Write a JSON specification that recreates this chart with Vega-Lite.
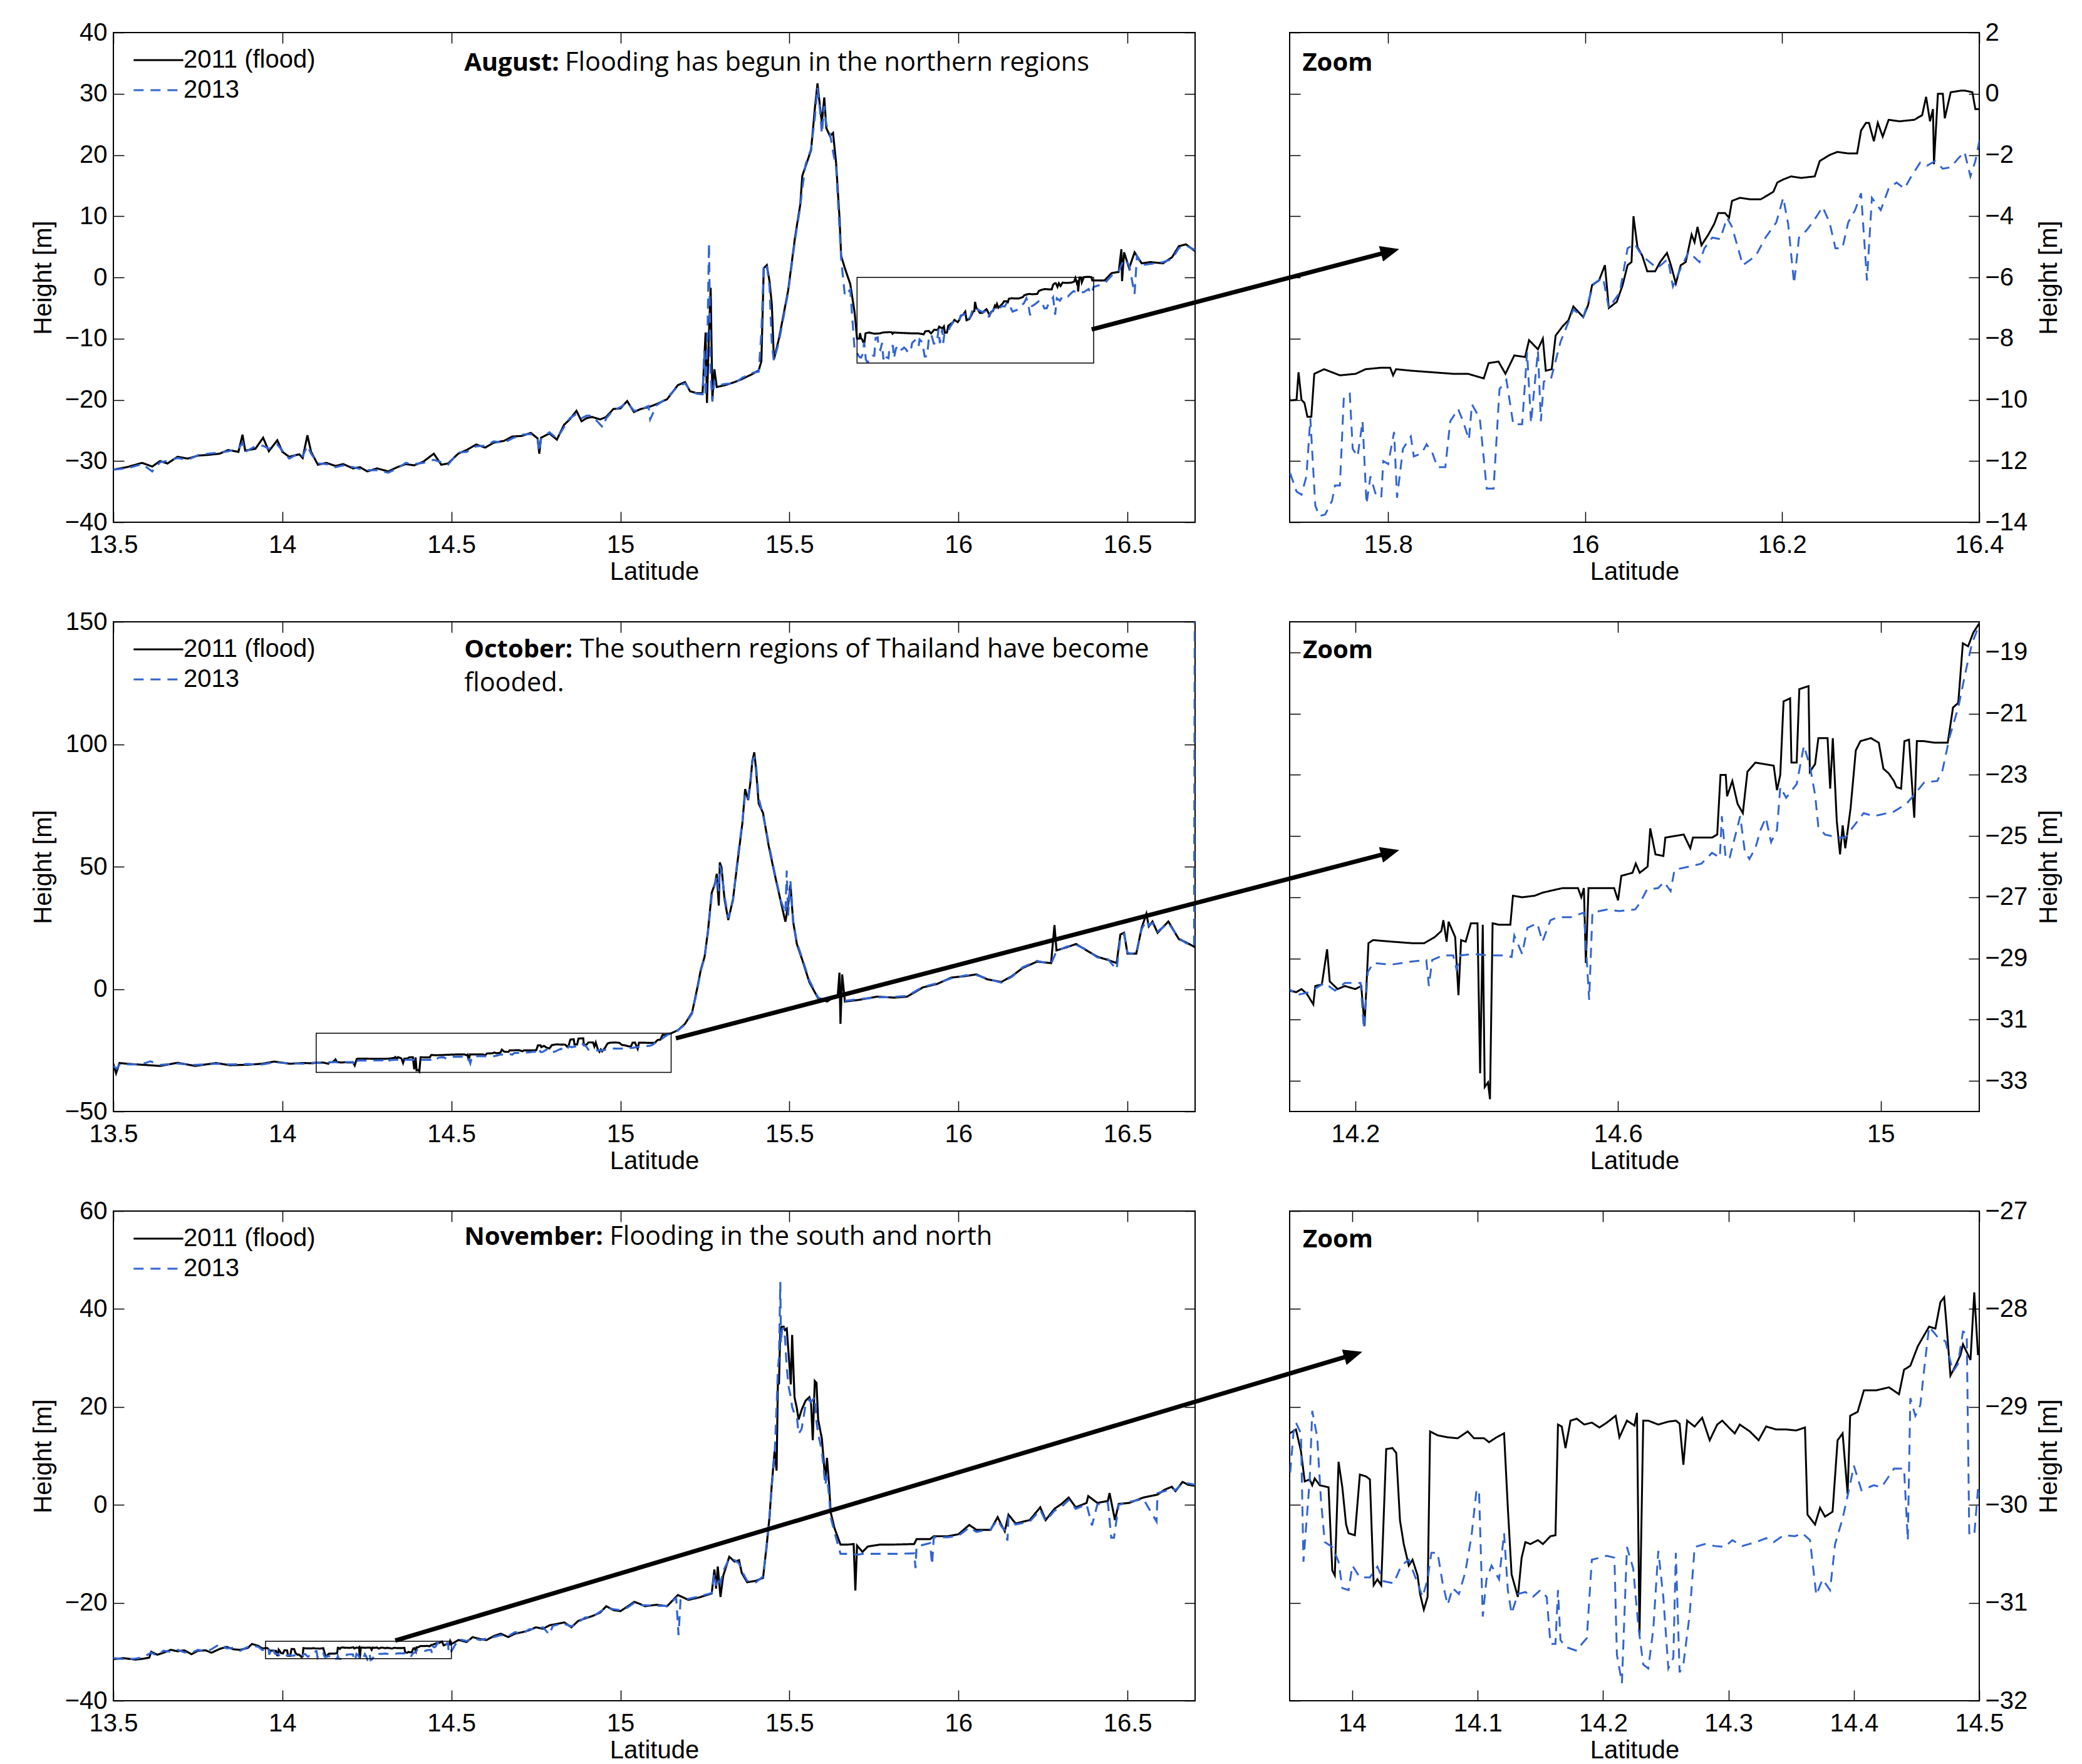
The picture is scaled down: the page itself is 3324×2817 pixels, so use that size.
{
"$schema": "https://vega.github.io/schema/vega-lite/v6.json",
"background": "white",
"padding": {"left": 48, "top": 31, "right": 10, "bottom": 0},
"datasets": {
"aug": [
{"s":"2011","lat":13.5,"h":-31.4},{"s":"2011","lat":13.54,"h":-31.0},{"s":"2011","lat":13.585,"h":-30.3},{"s":"2011","lat":13.615,"h":-30.9},{"s":"2011","lat":13.638,"h":-30.0},{"s":"2011","lat":13.66,"h":-30.4},{"s":"2011","lat":13.69,"h":-29.3},{"s":"2011","lat":13.72,"h":-29.6},{"s":"2011","lat":13.752,"h":-29.1},{"s":"2011","lat":13.78,"h":-29.0},{"s":"2011","lat":13.814,"h":-28.8},{"s":"2011","lat":13.84,"h":-28.2},{"s":"2011","lat":13.87,"h":-28.5},{"s":"2011","lat":13.882,"h":-25.7},{"s":"2011","lat":13.89,"h":-28.3},{"s":"2011","lat":13.92,"h":-28.0},{"s":"2011","lat":13.943,"h":-26.2},{"s":"2011","lat":13.96,"h":-28.4},{"s":"2011","lat":13.985,"h":-26.6},{"s":"2011","lat":14.0,"h":-28.5},{"s":"2011","lat":14.02,"h":-29.3},{"s":"2011","lat":14.05,"h":-28.9},{"s":"2011","lat":14.06,"h":-29.5},{"s":"2011","lat":14.074,"h":-25.8},{"s":"2011","lat":14.085,"h":-28.5},{"s":"2011","lat":14.105,"h":-30.6},{"s":"2011","lat":14.13,"h":-30.3},{"s":"2011","lat":14.157,"h":-30.8},{"s":"2011","lat":14.18,"h":-30.5},{"s":"2011","lat":14.209,"h":-31.2},{"s":"2011","lat":14.23,"h":-31.0},{"s":"2011","lat":14.251,"h":-31.7},{"s":"2011","lat":14.28,"h":-31.2},{"s":"2011","lat":14.313,"h":-31.7},{"s":"2011","lat":14.34,"h":-31.0},{"s":"2011","lat":14.365,"h":-30.5},{"s":"2011","lat":14.39,"h":-30.7},{"s":"2011","lat":14.417,"h":-30.1},{"s":"2011","lat":14.448,"h":-28.8},{"s":"2011","lat":14.47,"h":-30.6},{"s":"2011","lat":14.49,"h":-30.4},{"s":"2011","lat":14.52,"h":-28.8},{"s":"2011","lat":14.545,"h":-28.2},{"s":"2011","lat":14.573,"h":-27.3},{"s":"2011","lat":14.6,"h":-27.8},{"s":"2011","lat":14.625,"h":-27.0},{"s":"2011","lat":14.656,"h":-26.7},{"s":"2011","lat":14.68,"h":-26.0},{"s":"2011","lat":14.708,"h":-25.9},{"s":"2011","lat":14.735,"h":-25.4},{"s":"2011","lat":14.755,"h":-26.3},{"s":"2011","lat":14.76,"h":-28.8},{"s":"2011","lat":14.765,"h":-26.2},{"s":"2011","lat":14.79,"h":-25.5},{"s":"2011","lat":14.812,"h":-26.5},{"s":"2011","lat":14.833,"h":-24.1},{"s":"2011","lat":14.85,"h":-23.2},{"s":"2011","lat":14.87,"h":-21.8},{"s":"2011","lat":14.885,"h":-23.5},{"s":"2011","lat":14.9,"h":-23.0},{"s":"2011","lat":14.916,"h":-22.8},{"s":"2011","lat":14.94,"h":-23.2},{"s":"2011","lat":14.958,"h":-22.8},{"s":"2011","lat":14.979,"h":-21.5},{"s":"2011","lat":15.0,"h":-21.4},{"s":"2011","lat":15.02,"h":-20.2},{"s":"2011","lat":15.04,"h":-22.0},{"s":"2011","lat":15.06,"h":-21.5},{"s":"2011","lat":15.083,"h":-21.2},{"s":"2011","lat":15.107,"h":-20.7},{"s":"2011","lat":15.138,"h":-19.9},{"s":"2011","lat":15.17,"h":-17.6},{"s":"2011","lat":15.191,"h":-17.1},{"s":"2011","lat":15.206,"h":-18.6},{"s":"2011","lat":15.225,"h":-18.9},{"s":"2011","lat":15.243,"h":-18.9},{"s":"2011","lat":15.252,"h":-9.0},{"s":"2011","lat":15.256,"h":-20.5},{"s":"2011","lat":15.262,"h":-9.0},{"s":"2011","lat":15.267,"h":-1.7},{"s":"2011","lat":15.272,"h":-19.9},{"s":"2011","lat":15.278,"h":-15.0},{"s":"2011","lat":15.285,"h":-17.9},{"s":"2011","lat":15.31,"h":-17.6},{"s":"2011","lat":15.338,"h":-17.1},{"s":"2011","lat":15.36,"h":-16.6},{"s":"2011","lat":15.39,"h":-15.8},{"s":"2011","lat":15.409,"h":-15.2},{"s":"2011","lat":15.417,"h":-13.7},{"s":"2011","lat":15.424,"h":1.5},{"s":"2011","lat":15.433,"h":2.0},{"s":"2011","lat":15.441,"h":-0.6},{"s":"2011","lat":15.448,"h":-4.5},{"s":"2011","lat":15.454,"h":-13.4},{"s":"2011","lat":15.469,"h":-10.0},{"s":"2011","lat":15.496,"h":-2.2},{"s":"2011","lat":15.517,"h":6.7},{"s":"2011","lat":15.532,"h":11.9},{"s":"2011","lat":15.538,"h":16.6},{"s":"2011","lat":15.548,"h":18.2},{"s":"2011","lat":15.564,"h":20.8},{"s":"2011","lat":15.575,"h":27.5},{"s":"2011","lat":15.583,"h":31.7},{"s":"2011","lat":15.59,"h":28.1},{"s":"2011","lat":15.596,"h":25.2},{"s":"2011","lat":15.603,"h":29.4},{"s":"2011","lat":15.609,"h":24.4},{"s":"2011","lat":15.62,"h":23.1},{"s":"2011","lat":15.629,"h":23.6},{"s":"2011","lat":15.638,"h":18.7},{"s":"2011","lat":15.648,"h":9.8},{"s":"2011","lat":15.653,"h":3.5},{"s":"2011","lat":15.664,"h":1.5},{"s":"2011","lat":15.68,"h":-1.1},{"s":"2011","lat":15.693,"h":-5.8},
{"s":"2011","lat":15.7,"h":-10.02},{"s":"2011","lat":15.707,"h":-10.0},{"s":"2011","lat":15.709,"h":-9.1},{"s":"2011","lat":15.712,"h":-10.0},{"s":"2011","lat":15.715,"h":-10.1},{"s":"2011","lat":15.718,"h":-10.55},{"s":"2011","lat":15.722,"h":-10.55},{"s":"2011","lat":15.725,"h":-9.15},{"s":"2011","lat":15.735,"h":-9.0},{"s":"2011","lat":15.751,"h":-9.2},{"s":"2011","lat":15.767,"h":-9.15},{"s":"2011","lat":15.777,"h":-9.0},{"s":"2011","lat":15.793,"h":-8.95},{"s":"2011","lat":15.802,"h":-8.95},{"s":"2011","lat":15.805,"h":-9.2},{"s":"2011","lat":15.808,"h":-9.0},{"s":"2011","lat":15.824,"h":-9.05},{"s":"2011","lat":15.845,"h":-9.1},{"s":"2011","lat":15.866,"h":-9.15},{"s":"2011","lat":15.881,"h":-9.15},{"s":"2011","lat":15.897,"h":-9.3},{"s":"2011","lat":15.902,"h":-8.8},{"s":"2011","lat":15.912,"h":-8.75},{"s":"2011","lat":15.919,"h":-9.15},{"s":"2011","lat":15.928,"h":-8.55},{"s":"2011","lat":15.939,"h":-8.6},{"s":"2011","lat":15.943,"h":-8.05},{"s":"2011","lat":15.952,"h":-8.35},{"s":"2011","lat":15.957,"h":-8.0},{"s":"2011","lat":15.96,"h":-9.05},{"s":"2011","lat":15.966,"h":-9.0},{"s":"2011","lat":15.97,"h":-7.9},{"s":"2011","lat":15.977,"h":-7.6},{"s":"2011","lat":15.983,"h":-7.4},{"s":"2011","lat":15.988,"h":-6.95},{"s":"2011","lat":15.998,"h":-7.3},{"s":"2011","lat":16.003,"h":-6.9},{"s":"2011","lat":16.007,"h":-6.25},{"s":"2011","lat":16.014,"h":-6.1},{"s":"2011","lat":16.02,"h":-5.6},{"s":"2011","lat":16.024,"h":-7.0},{"s":"2011","lat":16.032,"h":-6.8},{"s":"2011","lat":16.038,"h":-6.25},{"s":"2011","lat":16.043,"h":-5.6},{"s":"2011","lat":16.047,"h":-5.5},{"s":"2011","lat":16.049,"h":-4.0},{"s":"2011","lat":16.053,"h":-5.0},{"s":"2011","lat":16.058,"h":-5.3},{"s":"2011","lat":16.063,"h":-5.8},{"s":"2011","lat":16.071,"h":-5.8},{"s":"2011","lat":16.076,"h":-5.5},{"s":"2011","lat":16.083,"h":-5.2},{"s":"2011","lat":16.087,"h":-5.6},{"s":"2011","lat":16.092,"h":-6.2},{"s":"2011","lat":16.097,"h":-5.6},{"s":"2011","lat":16.102,"h":-5.5},{"s":"2011","lat":16.108,"h":-4.6},{"s":"2011","lat":16.111,"h":-4.85},{"s":"2011","lat":16.114,"h":-4.35},{"s":"2011","lat":16.118,"h":-4.95},{"s":"2011","lat":16.125,"h":-4.6},{"s":"2011","lat":16.131,"h":-4.25},{"s":"2011","lat":16.135,"h":-3.9},{"s":"2011","lat":16.142,"h":-3.9},{"s":"2011","lat":16.146,"h":-4.05},{"s":"2011","lat":16.149,"h":-3.5},{"s":"2011","lat":16.157,"h":-3.4},{"s":"2011","lat":16.168,"h":-3.45},{"s":"2011","lat":16.178,"h":-3.45},{"s":"2011","lat":16.186,"h":-3.3},{"s":"2011","lat":16.191,"h":-3.2},{"s":"2011","lat":16.195,"h":-2.9},{"s":"2011","lat":16.201,"h":-2.8},{"s":"2011","lat":16.209,"h":-2.7},{"s":"2011","lat":16.219,"h":-2.75},{"s":"2011","lat":16.233,"h":-2.7},{"s":"2011","lat":16.238,"h":-2.2},{"s":"2011","lat":16.248,"h":-2.0},{"s":"2011","lat":16.256,"h":-1.9},{"s":"2011","lat":16.267,"h":-1.95},{"s":"2011","lat":16.276,"h":-1.95},{"s":"2011","lat":16.28,"h":-1.2},{"s":"2011","lat":16.285,"h":-0.95},{"s":"2011","lat":16.288,"h":-0.95},{"s":"2011","lat":16.293,"h":-1.55},{"s":"2011","lat":16.297,"h":-0.95},{"s":"2011","lat":16.302,"h":-1.4},{"s":"2011","lat":16.308,"h":-0.85},{"s":"2011","lat":16.319,"h":-0.9},{"s":"2011","lat":16.334,"h":-0.85},{"s":"2011","lat":16.342,"h":-0.7},{"s":"2011","lat":16.346,"h":-0.1},{"s":"2011","lat":16.35,"h":-0.9},{"s":"2011","lat":16.353,"h":-0.5},{"s":"2011","lat":16.354,"h":-2.3},{"s":"2011","lat":16.358,"h":0.0},{"s":"2011","lat":16.363,"h":0.0},{"s":"2011","lat":16.365,"h":-0.8},{"s":"2011","lat":16.371,"h":0.05},{"s":"2011","lat":16.381,"h":0.1},{"s":"2011","lat":16.386,"h":0.1},{"s":"2011","lat":16.393,"h":0.05},{"s":"2011","lat":16.396,"h":-0.5},{"s":"2011","lat":16.4,"h":-0.5},
{"s":"2011","lat":16.432,"h":-0.5},{"s":"2011","lat":16.453,"h":0.7},{"s":"2011","lat":16.474,"h":0.9},{"s":"2011","lat":16.482,"h":4.6},{"s":"2011","lat":16.484,"h":-0.6},{"s":"2011","lat":16.49,"h":4.1},{"s":"2011","lat":16.505,"h":1.5},{"s":"2011","lat":16.521,"h":4.1},{"s":"2011","lat":16.542,"h":2.3},{"s":"2011","lat":16.568,"h":2.5},{"s":"2011","lat":16.605,"h":2.3},{"s":"2011","lat":16.632,"h":3.3},{"s":"2011","lat":16.652,"h":5.1},{"s":"2011","lat":16.673,"h":5.4},{"s":"2011","lat":16.7,"h":4.3},
{"s":"2013","lat":13.5,"h":-31.4},{"s":"2013","lat":13.54,"h":-31.2},{"s":"2013","lat":13.585,"h":-30.5},{"s":"2013","lat":13.615,"h":-31.7},{"s":"2013","lat":13.638,"h":-30.2},{"s":"2013","lat":13.66,"h":-30.0},{"s":"2013","lat":13.69,"h":-29.5},{"s":"2013","lat":13.72,"h":-29.8},{"s":"2013","lat":13.752,"h":-29.0},{"s":"2013","lat":13.78,"h":-28.8},{"s":"2013","lat":13.814,"h":-28.6},{"s":"2013","lat":13.84,"h":-28.4},{"s":"2013","lat":13.87,"h":-28.0},{"s":"2013","lat":13.882,"h":-27.0},{"s":"2013","lat":13.89,"h":-28.5},{"s":"2013","lat":13.92,"h":-27.6},{"s":"2013","lat":13.943,"h":-27.5},{"s":"2013","lat":13.96,"h":-28.0},{"s":"2013","lat":13.985,"h":-27.3},{"s":"2013","lat":14.0,"h":-28.3},{"s":"2013","lat":14.02,"h":-29.6},{"s":"2013","lat":14.05,"h":-28.7},{"s":"2013","lat":14.06,"h":-29.2},{"s":"2013","lat":14.074,"h":-27.5},{"s":"2013","lat":14.085,"h":-28.8},{"s":"2013","lat":14.105,"h":-30.4},{"s":"2013","lat":14.13,"h":-30.5},{"s":"2013","lat":14.157,"h":-31.0},{"s":"2013","lat":14.18,"h":-30.7},{"s":"2013","lat":14.209,"h":-31.0},{"s":"2013","lat":14.23,"h":-31.3},{"s":"2013","lat":14.251,"h":-31.5},{"s":"2013","lat":14.28,"h":-31.5},{"s":"2013","lat":14.313,"h":-31.9},{"s":"2013","lat":14.34,"h":-31.2},{"s":"2013","lat":14.365,"h":-30.3},{"s":"2013","lat":14.39,"h":-30.5},{"s":"2013","lat":14.417,"h":-30.3},{"s":"2013","lat":14.448,"h":-29.8},{"s":"2013","lat":14.47,"h":-30.2},{"s":"2013","lat":14.49,"h":-30.6},{"s":"2013","lat":14.52,"h":-28.6},{"s":"2013","lat":14.545,"h":-28.5},{"s":"2013","lat":14.573,"h":-27.6},{"s":"2013","lat":14.6,"h":-27.5},{"s":"2013","lat":14.625,"h":-26.8},{"s":"2013","lat":14.656,"h":-27.0},{"s":"2013","lat":14.68,"h":-26.3},{"s":"2013","lat":14.708,"h":-25.7},{"s":"2013","lat":14.735,"h":-25.6},{"s":"2013","lat":14.755,"h":-26.5},{"s":"2013","lat":14.76,"h":-28.5},{"s":"2013","lat":14.765,"h":-26.4},{"s":"2013","lat":14.79,"h":-25.3},{"s":"2013","lat":14.812,"h":-26.3},{"s":"2013","lat":14.833,"h":-24.5},{"s":"2013","lat":14.85,"h":-23.0},{"s":"2013","lat":14.87,"h":-22.3},{"s":"2013","lat":14.885,"h":-23.0},{"s":"2013","lat":14.9,"h":-22.6},{"s":"2013","lat":14.916,"h":-22.6},{"s":"2013","lat":14.948,"h":-24.5},{"s":"2013","lat":14.958,"h":-23.0},{"s":"2013","lat":14.979,"h":-21.7},{"s":"2013","lat":15.0,"h":-21.2},{"s":"2013","lat":15.02,"h":-20.4},{"s":"2013","lat":15.04,"h":-21.8},{"s":"2013","lat":15.06,"h":-21.6},{"s":"2013","lat":15.083,"h":-21.0},{"s":"2013","lat":15.088,"h":-23.2},{"s":"2013","lat":15.107,"h":-20.9},{"s":"2013","lat":15.138,"h":-19.7},{"s":"2013","lat":15.17,"h":-17.8},{"s":"2013","lat":15.191,"h":-17.3},{"s":"2013","lat":15.206,"h":-18.4},{"s":"2013","lat":15.225,"h":-19.0},{"s":"2013","lat":15.243,"h":-19.1},{"s":"2013","lat":15.248,"h":-12.0},{"s":"2013","lat":15.252,"h":-19.5},{"s":"2013","lat":15.258,"h":-8.0},{"s":"2013","lat":15.262,"h":5.6},{"s":"2013","lat":15.267,"h":-16.0},{"s":"2013","lat":15.272,"h":-20.3},{"s":"2013","lat":15.278,"h":-17.0},{"s":"2013","lat":15.285,"h":-17.7},{"s":"2013","lat":15.31,"h":-17.4},{"s":"2013","lat":15.338,"h":-17.3},{"s":"2013","lat":15.36,"h":-16.4},{"s":"2013","lat":15.39,"h":-15.6},{"s":"2013","lat":15.409,"h":-15.4},{"s":"2013","lat":15.417,"h":-9.0},{"s":"2013","lat":15.424,"h":2.0},{"s":"2013","lat":15.433,"h":2.1},{"s":"2013","lat":15.441,"h":-1.5},{"s":"2013","lat":15.448,"h":-11.0},{"s":"2013","lat":15.454,"h":-13.6},{"s":"2013","lat":15.469,"h":-10.5},{"s":"2013","lat":15.496,"h":-2.5},{"s":"2013","lat":15.517,"h":6.3},{"s":"2013","lat":15.532,"h":11.5},{"s":"2013","lat":15.538,"h":14.5},{"s":"2013","lat":15.548,"h":18.5},{"s":"2013","lat":15.564,"h":21.0},{"s":"2013","lat":15.575,"h":26.0},{"s":"2013","lat":15.583,"h":31.0},{"s":"2013","lat":15.59,"h":27.5},{"s":"2013","lat":15.596,"h":23.5},{"s":"2013","lat":15.603,"h":28.0},{"s":"2013","lat":15.609,"h":25.0},{"s":"2013","lat":15.62,"h":23.5},{"s":"2013","lat":15.629,"h":20.5},{"s":"2013","lat":15.638,"h":18.0},{"s":"2013","lat":15.648,"h":8.0},{"s":"2013","lat":15.653,"h":3.0},{"s":"2013","lat":15.664,"h":-3.0},{"s":"2013","lat":15.68,"h":-2.0},{"s":"2013","lat":15.693,"h":-12.0},
{"s":"2013","lat":15.7,"h":-12.35},{"s":"2013","lat":15.707,"h":-13.0},{"s":"2013","lat":15.712,"h":-13.1},{"s":"2013","lat":15.717,"h":-12.5},{"s":"2013","lat":15.721,"h":-10.6},{"s":"2013","lat":15.726,"h":-13.45},{"s":"2013","lat":15.73,"h":-13.8},{"s":"2013","lat":15.736,"h":-13.75},{"s":"2013","lat":15.743,"h":-13.3},{"s":"2013","lat":15.746,"h":-12.8},{"s":"2013","lat":15.751,"h":-12.8},{"s":"2013","lat":15.755,"h":-9.9},{"s":"2013","lat":15.761,"h":-9.8},{"s":"2013","lat":15.764,"h":-11.6},{"s":"2013","lat":15.769,"h":-11.85},{"s":"2013","lat":15.774,"h":-10.7},{"s":"2013","lat":15.778,"h":-13.4},{"s":"2013","lat":15.782,"h":-12.5},{"s":"2013","lat":15.787,"h":-13.05},{"s":"2013","lat":15.793,"h":-13.2},{"s":"2013","lat":15.795,"h":-12.0},{"s":"2013","lat":15.8,"h":-12.1},{"s":"2013","lat":15.806,"h":-11.05},{"s":"2013","lat":15.809,"h":-13.2},{"s":"2013","lat":15.815,"h":-11.6},{"s":"2013","lat":15.823,"h":-11.2},{"s":"2013","lat":15.826,"h":-11.85},{"s":"2013","lat":15.834,"h":-11.75},{"s":"2013","lat":15.839,"h":-11.45},{"s":"2013","lat":15.845,"h":-11.75},{"s":"2013","lat":15.85,"h":-12.2},{"s":"2013","lat":15.858,"h":-12.2},{"s":"2013","lat":15.863,"h":-10.7},{"s":"2013","lat":15.871,"h":-10.3},{"s":"2013","lat":15.876,"h":-10.7},{"s":"2013","lat":15.882,"h":-11.3},{"s":"2013","lat":15.885,"h":-10.15},{"s":"2013","lat":15.893,"h":-10.6},{"s":"2013","lat":15.9,"h":-12.9},{"s":"2013","lat":15.907,"h":-12.9},{"s":"2013","lat":15.913,"h":-9.65},{"s":"2013","lat":15.92,"h":-9.35},{"s":"2013","lat":15.927,"h":-10.8},{"s":"2013","lat":15.936,"h":-10.8},{"s":"2013","lat":15.941,"h":-8.45},{"s":"2013","lat":15.945,"h":-10.75},{"s":"2013","lat":15.952,"h":-8.4},{"s":"2013","lat":15.955,"h":-10.7},{"s":"2013","lat":15.958,"h":-9.4},{"s":"2013","lat":15.965,"h":-9.35},{"s":"2013","lat":15.975,"h":-8.1},{"s":"2013","lat":15.988,"h":-7.05},{"s":"2013","lat":15.998,"h":-7.3},{"s":"2013","lat":16.009,"h":-6.2},{"s":"2013","lat":16.018,"h":-6.0},{"s":"2013","lat":16.024,"h":-7.0},{"s":"2013","lat":16.035,"h":-6.5},{"s":"2013","lat":16.043,"h":-5.05},{"s":"2013","lat":16.05,"h":-4.9},{"s":"2013","lat":16.058,"h":-5.3},{"s":"2013","lat":16.073,"h":-5.7},{"s":"2013","lat":16.084,"h":-5.4},{"s":"2013","lat":16.089,"h":-6.3},{"s":"2013","lat":16.097,"h":-5.7},{"s":"2013","lat":16.105,"h":-5.17},{"s":"2013","lat":16.116,"h":-5.5},{"s":"2013","lat":16.121,"h":-5.05},{"s":"2013","lat":16.129,"h":-4.7},{"s":"2013","lat":16.137,"h":-4.75},{"s":"2013","lat":16.144,"h":-4.05},{"s":"2013","lat":16.149,"h":-4.35},{"s":"2013","lat":16.16,"h":-5.6},{"s":"2013","lat":16.173,"h":-5.3},{"s":"2013","lat":16.183,"h":-4.7},{"s":"2013","lat":16.194,"h":-4.2},{"s":"2013","lat":16.201,"h":-3.4},{"s":"2013","lat":16.206,"h":-4.25},{"s":"2013","lat":16.212,"h":-6.2},{"s":"2013","lat":16.217,"h":-4.7},{"s":"2013","lat":16.225,"h":-4.45},{"s":"2013","lat":16.233,"h":-4.1},{"s":"2013","lat":16.241,"h":-3.7},{"s":"2013","lat":16.248,"h":-4.2},{"s":"2013","lat":16.254,"h":-5.05},{"s":"2013","lat":16.261,"h":-5.05},{"s":"2013","lat":16.267,"h":-4.2},{"s":"2013","lat":16.274,"h":-3.8},{"s":"2013","lat":16.28,"h":-3.25},{"s":"2013","lat":16.286,"h":-6.1},{"s":"2013","lat":16.291,"h":-3.4},{"s":"2013","lat":16.3,"h":-3.8},{"s":"2013","lat":16.308,"h":-3.1},{"s":"2013","lat":16.316,"h":-2.9},{"s":"2013","lat":16.324,"h":-3.1},{"s":"2013","lat":16.331,"h":-2.7},{"s":"2013","lat":16.34,"h":-2.25},{"s":"2013","lat":16.347,"h":-2.35},{"s":"2013","lat":16.355,"h":-2.2},{"s":"2013","lat":16.363,"h":-2.45},{"s":"2013","lat":16.371,"h":-2.4},{"s":"2013","lat":16.379,"h":-2.1},{"s":"2013","lat":16.385,"h":-1.9},{"s":"2013","lat":16.391,"h":-2.7},{"s":"2013","lat":16.396,"h":-2.2},{"s":"2013","lat":16.4,"h":-1.55},
{"s":"2013","lat":16.432,"h":-1.0},{"s":"2013","lat":16.453,"h":0.3},{"s":"2013","lat":16.474,"h":1.0},{"s":"2013","lat":16.482,"h":2.0},{"s":"2013","lat":16.49,"h":3.0},{"s":"2013","lat":16.505,"h":2.0},{"s":"2013","lat":16.521,"h":-2.7},{"s":"2013","lat":16.528,"h":3.5},{"s":"2013","lat":16.542,"h":2.0},{"s":"2013","lat":16.568,"h":2.2},{"s":"2013","lat":16.605,"h":2.5},{"s":"2013","lat":16.632,"h":3.0},{"s":"2013","lat":16.652,"h":4.8},{"s":"2013","lat":16.673,"h":5.2},{"s":"2013","lat":16.7,"h":4.5}
],
"oct": [
{"s":"2011","lat":13.5,"h":-30.5},{"s":"2011","lat":13.508,"h":-34.4},{"s":"2011","lat":13.518,"h":-30.2},{"s":"2011","lat":13.55,"h":-30.6},{"s":"2011","lat":13.585,"h":-30.9},{"s":"2011","lat":13.638,"h":-31.4},{"s":"2011","lat":13.69,"h":-30.1},{"s":"2011","lat":13.742,"h":-31.4},{"s":"2011","lat":13.804,"h":-30.2},{"s":"2011","lat":13.845,"h":-31.1},{"s":"2011","lat":13.898,"h":-30.9},{"s":"2011","lat":13.94,"h":-30.5},{"s":"2011","lat":13.976,"h":-29.6},{"s":"2011","lat":14.022,"h":-30.5},{"s":"2011","lat":14.06,"h":-30.2},{"s":"2011","lat":14.09,"h":-30.3},
{"s":"2011","lat":14.1,"h":-30.05},{"s":"2011","lat":14.11,"h":-30.1},{"s":"2011","lat":14.118,"h":-30.0},{"s":"2011","lat":14.126,"h":-30.15},{"s":"2011","lat":14.136,"h":-30.5},{"s":"2011","lat":14.139,"h":-29.9},{"s":"2011","lat":14.149,"h":-29.85},{"s":"2011","lat":14.157,"h":-28.7},{"s":"2011","lat":14.161,"h":-29.75},{"s":"2011","lat":14.173,"h":-30.0},{"s":"2011","lat":14.184,"h":-29.9},{"s":"2011","lat":14.2,"h":-30.0},{"s":"2011","lat":14.209,"h":-29.9},{"s":"2011","lat":14.214,"h":-31.2},{"s":"2011","lat":14.22,"h":-28.5},{"s":"2011","lat":14.227,"h":-28.4},{"s":"2011","lat":14.255,"h":-28.45},{"s":"2011","lat":14.286,"h":-28.5},{"s":"2011","lat":14.305,"h":-28.5},{"s":"2011","lat":14.321,"h":-28.3},{"s":"2011","lat":14.331,"h":-28.1},{"s":"2011","lat":14.334,"h":-27.75},{"s":"2011","lat":14.339,"h":-28.45},{"s":"2011","lat":14.342,"h":-27.8},{"s":"2011","lat":14.352,"h":-28.3},{"s":"2011","lat":14.357,"h":-30.2},{"s":"2011","lat":14.361,"h":-28.4},{"s":"2011","lat":14.368,"h":-28.45},{"s":"2011","lat":14.376,"h":-27.85},{"s":"2011","lat":14.386,"h":-27.85},{"s":"2011","lat":14.39,"h":-32.75},{"s":"2011","lat":14.394,"h":-27.9},{"s":"2011","lat":14.397,"h":-33.2},{"s":"2011","lat":14.402,"h":-33.05},{"s":"2011","lat":14.405,"h":-33.6},{"s":"2011","lat":14.409,"h":-27.85},{"s":"2011","lat":14.419,"h":-27.9},{"s":"2011","lat":14.436,"h":-27.9},{"s":"2011","lat":14.44,"h":-26.95},{"s":"2011","lat":14.454,"h":-27.0},{"s":"2011","lat":14.473,"h":-26.95},{"s":"2011","lat":14.485,"h":-26.85},{"s":"2011","lat":14.505,"h":-26.75},{"s":"2011","lat":14.516,"h":-26.7},{"s":"2011","lat":14.539,"h":-26.7},{"s":"2011","lat":14.544,"h":-27.0},{"s":"2011","lat":14.548,"h":-26.7},{"s":"2011","lat":14.551,"h":-29.15},{"s":"2011","lat":14.555,"h":-26.7},{"s":"2011","lat":14.575,"h":-26.7},{"s":"2011","lat":14.594,"h":-26.7},{"s":"2011","lat":14.6,"h":-27.1},{"s":"2011","lat":14.605,"h":-26.3},{"s":"2011","lat":14.622,"h":-26.2},{"s":"2011","lat":14.627,"h":-25.9},{"s":"2011","lat":14.633,"h":-26.2},{"s":"2011","lat":14.645,"h":-26.0},{"s":"2011","lat":14.649,"h":-24.75},{"s":"2011","lat":14.657,"h":-25.6},{"s":"2011","lat":14.669,"h":-25.65},{"s":"2011","lat":14.672,"h":-25.05},{"s":"2011","lat":14.7,"h":-24.95},{"s":"2011","lat":14.71,"h":-25.4},{"s":"2011","lat":14.714,"h":-25.05},{"s":"2011","lat":14.743,"h":-25.05},{"s":"2011","lat":14.751,"h":-24.95},{"s":"2011","lat":14.756,"h":-23.0},{"s":"2011","lat":14.764,"h":-23.0},{"s":"2011","lat":14.766,"h":-23.7},{"s":"2011","lat":14.774,"h":-23.2},{"s":"2011","lat":14.782,"h":-23.95},{"s":"2011","lat":14.79,"h":-24.25},{"s":"2011","lat":14.797,"h":-22.9},{"s":"2011","lat":14.809,"h":-22.6},{"s":"2011","lat":14.837,"h":-22.7},{"s":"2011","lat":14.842,"h":-23.5},{"s":"2011","lat":14.847,"h":-23.0},{"s":"2011","lat":14.852,"h":-20.6},{"s":"2011","lat":14.862,"h":-20.5},{"s":"2011","lat":14.864,"h":-22.6},{"s":"2011","lat":14.872,"h":-22.6},{"s":"2011","lat":14.876,"h":-20.2},{"s":"2011","lat":14.89,"h":-20.1},{"s":"2011","lat":14.892,"h":-22.9},{"s":"2011","lat":14.9,"h":-22.65},{"s":"2011","lat":14.905,"h":-21.8},{"s":"2011","lat":14.919,"h":-21.8},{"s":"2011","lat":14.923,"h":-23.45},{"s":"2011","lat":14.927,"h":-21.8},{"s":"2011","lat":14.933,"h":-24.5},{"s":"2011","lat":14.938,"h":-25.6},{"s":"2011","lat":14.942,"h":-24.65},{"s":"2011","lat":14.946,"h":-25.4},{"s":"2011","lat":14.954,"h":-24.1},{"s":"2011","lat":14.962,"h":-22.2},{"s":"2011","lat":14.969,"h":-21.9},{"s":"2011","lat":14.985,"h":-21.8},{"s":"2011","lat":14.997,"h":-21.95},{"s":"2011","lat":15.004,"h":-22.8},{"s":"2011","lat":15.012,"h":-22.95},{"s":"2011","lat":15.02,"h":-23.2},{"s":"2011","lat":15.024,"h":-23.4},{"s":"2011","lat":15.031,"h":-23.45},{"s":"2011","lat":15.036,"h":-21.9},{"s":"2011","lat":15.043,"h":-21.85},{"s":"2011","lat":15.051,"h":-24.4},{"s":"2011","lat":15.055,"h":-21.9},{"s":"2011","lat":15.066,"h":-21.9},{"s":"2011","lat":15.082,"h":-21.95},{"s":"2011","lat":15.102,"h":-21.95},{"s":"2011","lat":15.11,"h":-20.8},{"s":"2011","lat":15.118,"h":-20.65},{"s":"2011","lat":15.125,"h":-18.7},{"s":"2011","lat":15.133,"h":-18.8},{"s":"2011","lat":15.141,"h":-18.35},{"s":"2011","lat":15.15,"h":-18.05},
{"s":"2011","lat":15.17,"h":-16.8},{"s":"2011","lat":15.191,"h":-14.2},{"s":"2011","lat":15.212,"h":-9.6},{"s":"2011","lat":15.227,"h":0.2},{"s":"2011","lat":15.238,"h":8.0},{"s":"2011","lat":15.249,"h":13.2},{"s":"2011","lat":15.259,"h":23.7},{"s":"2011","lat":15.27,"h":39.3},{"s":"2011","lat":15.28,"h":43.2},{"s":"2011","lat":15.285,"h":47.1},{"s":"2011","lat":15.291,"h":34.1},{"s":"2011","lat":15.294,"h":51.7},{"s":"2011","lat":15.299,"h":49.7},{"s":"2011","lat":15.308,"h":36.7},{"s":"2011","lat":15.319,"h":28.2},{"s":"2011","lat":15.333,"h":36.7},{"s":"2011","lat":15.348,"h":53.7},{"s":"2011","lat":15.361,"h":68.0},{"s":"2011","lat":15.369,"h":81.7},{"s":"2011","lat":15.378,"h":77.2},{"s":"2011","lat":15.385,"h":85.0},{"s":"2011","lat":15.39,"h":92.8},{"s":"2011","lat":15.396,"h":96.7},{"s":"2011","lat":15.401,"h":90.2},{"s":"2011","lat":15.409,"h":75.8},{"s":"2011","lat":15.422,"h":71.9},{"s":"2011","lat":15.438,"h":58.9},{"s":"2011","lat":15.454,"h":48.4},{"s":"2011","lat":15.475,"h":35.4},{"s":"2011","lat":15.488,"h":27.5},{"s":"2011","lat":15.496,"h":34.1},{"s":"2011","lat":15.503,"h":42.6},{"s":"2011","lat":15.511,"h":27.5},{"s":"2011","lat":15.522,"h":18.4},{"s":"2011","lat":15.538,"h":11.9},{"s":"2011","lat":15.559,"h":2.8},{"s":"2011","lat":15.585,"h":-3.8},{"s":"2011","lat":15.611,"h":-5.1},{"s":"2011","lat":15.643,"h":-2.4},{"s":"2011","lat":15.648,"h":6.7},{"s":"2011","lat":15.651,"h":-14.2},{"s":"2011","lat":15.656,"h":6.0},{"s":"2011","lat":15.664,"h":-5.1},{"s":"2011","lat":15.706,"h":-4.4},{"s":"2011","lat":15.759,"h":-3.1},{"s":"2011","lat":15.811,"h":-3.5},{"s":"2011","lat":15.848,"h":-3.1},{"s":"2011","lat":15.895,"h":0.7},{"s":"2011","lat":15.937,"h":2.1},{"s":"2011","lat":15.979,"h":4.7},{"s":"2011","lat":16.021,"h":5.3},{"s":"2011","lat":16.053,"h":6.0},{"s":"2011","lat":16.085,"h":4.0},{"s":"2011","lat":16.127,"h":2.9},{"s":"2011","lat":16.158,"h":5.3},{"s":"2011","lat":16.19,"h":8.6},{"s":"2011","lat":16.232,"h":11.2},{"s":"2011","lat":16.274,"h":10.6},{"s":"2011","lat":16.284,"h":26.2},{"s":"2011","lat":16.29,"h":15.8},{"s":"2011","lat":16.321,"h":17.1},{"s":"2011","lat":16.348,"h":18.4},{"s":"2011","lat":16.379,"h":15.8},{"s":"2011","lat":16.411,"h":13.2},{"s":"2011","lat":16.442,"h":11.9},{"s":"2011","lat":16.468,"h":10.6},{"s":"2011","lat":16.479,"h":22.3},{"s":"2011","lat":16.49,"h":23.0},{"s":"2011","lat":16.5,"h":14.5},{"s":"2011","lat":16.526,"h":14.5},{"s":"2011","lat":16.542,"h":25.0},{"s":"2011","lat":16.556,"h":30.8},{"s":"2011","lat":16.563,"h":25.6},{"s":"2011","lat":16.574,"h":27.6},{"s":"2011","lat":16.589,"h":23.0},{"s":"2011","lat":16.621,"h":27.6},{"s":"2011","lat":16.652,"h":20.4},{"s":"2011","lat":16.673,"h":19.1},{"s":"2011","lat":16.7,"h":17.1},
{"s":"2013","lat":13.5,"h":-31.5},{"s":"2013","lat":13.51,"h":-32.5},{"s":"2013","lat":13.52,"h":-30.5},{"s":"2013","lat":13.55,"h":-30.8},{"s":"2013","lat":13.585,"h":-30.6},{"s":"2013","lat":13.61,"h":-29.5},{"s":"2013","lat":13.638,"h":-31.0},{"s":"2013","lat":13.69,"h":-30.4},{"s":"2013","lat":13.742,"h":-31.0},{"s":"2013","lat":13.804,"h":-30.5},{"s":"2013","lat":13.845,"h":-30.8},{"s":"2013","lat":13.898,"h":-30.6},{"s":"2013","lat":13.94,"h":-30.8},{"s":"2013","lat":13.976,"h":-29.9},{"s":"2013","lat":14.022,"h":-30.3},{"s":"2013","lat":14.06,"h":-30.5},{"s":"2013","lat":14.09,"h":-30.1},
{"s":"2013","lat":14.1,"h":-30.0},{"s":"2013","lat":14.11,"h":-30.2},{"s":"2013","lat":14.13,"h":-30.1},{"s":"2013","lat":14.153,"h":-29.8},{"s":"2013","lat":14.169,"h":-30.05},{"s":"2013","lat":14.184,"h":-29.8},{"s":"2013","lat":14.208,"h":-29.8},{"s":"2013","lat":14.213,"h":-31.3},{"s":"2013","lat":14.219,"h":-29.45},{"s":"2013","lat":14.227,"h":-29.15},{"s":"2013","lat":14.255,"h":-29.2},{"s":"2013","lat":14.286,"h":-29.1},{"s":"2013","lat":14.308,"h":-29.05},{"s":"2013","lat":14.312,"h":-29.9},{"s":"2013","lat":14.317,"h":-29.05},{"s":"2013","lat":14.333,"h":-28.9},{"s":"2013","lat":14.349,"h":-28.9},{"s":"2013","lat":14.354,"h":-29.35},{"s":"2013","lat":14.36,"h":-28.9},{"s":"2013","lat":14.38,"h":-28.85},{"s":"2013","lat":14.403,"h":-28.9},{"s":"2013","lat":14.426,"h":-28.9},{"s":"2013","lat":14.438,"h":-28.95},{"s":"2013","lat":14.442,"h":-28.25},{"s":"2013","lat":14.454,"h":-28.85},{"s":"2013","lat":14.462,"h":-28.0},{"s":"2013","lat":14.477,"h":-27.85},{"s":"2013","lat":14.485,"h":-28.45},{"s":"2013","lat":14.497,"h":-27.75},{"s":"2013","lat":14.508,"h":-27.65},{"s":"2013","lat":14.528,"h":-27.65},{"s":"2013","lat":14.548,"h":-27.5},{"s":"2013","lat":14.556,"h":-30.35},{"s":"2013","lat":14.561,"h":-27.5},{"s":"2013","lat":14.583,"h":-27.4},{"s":"2013","lat":14.602,"h":-27.45},{"s":"2013","lat":14.626,"h":-27.4},{"s":"2013","lat":14.633,"h":-27.2},{"s":"2013","lat":14.644,"h":-26.75},{"s":"2013","lat":14.661,"h":-26.7},{"s":"2013","lat":14.67,"h":-26.5},{"s":"2013","lat":14.68,"h":-26.8},{"s":"2013","lat":14.686,"h":-26.1},{"s":"2013","lat":14.708,"h":-26.0},{"s":"2013","lat":14.727,"h":-25.9},{"s":"2013","lat":14.743,"h":-25.55},{"s":"2013","lat":14.755,"h":-25.7},{"s":"2013","lat":14.758,"h":-24.35},{"s":"2013","lat":14.764,"h":-25.75},{"s":"2013","lat":14.77,"h":-25.7},{"s":"2013","lat":14.786,"h":-24.35},{"s":"2013","lat":14.793,"h":-25.5},{"s":"2013","lat":14.8,"h":-25.75},{"s":"2013","lat":14.809,"h":-25.4},{"s":"2013","lat":14.817,"h":-24.8},{"s":"2013","lat":14.825,"h":-24.4},{"s":"2013","lat":14.833,"h":-25.2},{"s":"2013","lat":14.842,"h":-24.8},{"s":"2013","lat":14.847,"h":-23.4},{"s":"2013","lat":14.856,"h":-23.75},{"s":"2013","lat":14.872,"h":-23.3},{"s":"2013","lat":14.883,"h":-22.05},{"s":"2013","lat":14.892,"h":-22.7},{"s":"2013","lat":14.9,"h":-23.65},{"s":"2013","lat":14.905,"h":-24.7},{"s":"2013","lat":14.915,"h":-24.95},{"s":"2013","lat":14.934,"h":-25.05},{"s":"2013","lat":14.946,"h":-25.05},{"s":"2013","lat":14.958,"h":-24.7},{"s":"2013","lat":14.974,"h":-24.25},{"s":"2013","lat":14.989,"h":-24.35},{"s":"2013","lat":15.0,"h":-24.3},{"s":"2013","lat":15.02,"h":-24.2},{"s":"2013","lat":15.039,"h":-23.95},{"s":"2013","lat":15.051,"h":-23.65},{"s":"2013","lat":15.066,"h":-23.25},{"s":"2013","lat":15.086,"h":-23.2},{"s":"2013","lat":15.094,"h":-22.85},{"s":"2013","lat":15.105,"h":-21.75},{"s":"2013","lat":15.118,"h":-20.8},{"s":"2013","lat":15.13,"h":-19.55},{"s":"2013","lat":15.139,"h":-18.7},{"s":"2013","lat":15.15,"h":-18.1},
{"s":"2013","lat":15.17,"h":-16.9},{"s":"2013","lat":15.191,"h":-14.5},{"s":"2013","lat":15.212,"h":-10.0},{"s":"2013","lat":15.227,"h":-0.5},{"s":"2013","lat":15.238,"h":7.5},{"s":"2013","lat":15.249,"h":13.0},{"s":"2013","lat":15.259,"h":23.0},{"s":"2013","lat":15.27,"h":38.0},{"s":"2013","lat":15.28,"h":43.0},{"s":"2013","lat":15.285,"h":46.0},{"s":"2013","lat":15.291,"h":40.0},{"s":"2013","lat":15.294,"h":50.5},{"s":"2013","lat":15.299,"h":48.0},{"s":"2013","lat":15.308,"h":38.0},{"s":"2013","lat":15.319,"h":29.0},{"s":"2013","lat":15.333,"h":36.0},{"s":"2013","lat":15.348,"h":55.0},{"s":"2013","lat":15.361,"h":68.5},{"s":"2013","lat":15.369,"h":80.0},{"s":"2013","lat":15.378,"h":78.0},{"s":"2013","lat":15.385,"h":86.0},{"s":"2013","lat":15.39,"h":93.5},{"s":"2013","lat":15.396,"h":94.5},{"s":"2013","lat":15.401,"h":92.0},{"s":"2013","lat":15.409,"h":78.0},{"s":"2013","lat":15.422,"h":71.0},{"s":"2013","lat":15.438,"h":60.0},{"s":"2013","lat":15.454,"h":49.0},{"s":"2013","lat":15.475,"h":36.0},{"s":"2013","lat":15.488,"h":31.0},{"s":"2013","lat":15.492,"h":48.4},{"s":"2013","lat":15.496,"h":30.0},{"s":"2013","lat":15.503,"h":44.0},{"s":"2013","lat":15.511,"h":28.0},{"s":"2013","lat":15.522,"h":19.0},{"s":"2013","lat":15.538,"h":12.5},{"s":"2013","lat":15.559,"h":3.5},{"s":"2013","lat":15.585,"h":-3.5},{"s":"2013","lat":15.611,"h":-4.8},{"s":"2013","lat":15.643,"h":-3.0},{"s":"2013","lat":15.656,"h":-4.5},{"s":"2013","lat":15.664,"h":-4.8},{"s":"2013","lat":15.706,"h":-4.1},{"s":"2013","lat":15.759,"h":-3.4},{"s":"2013","lat":15.811,"h":-3.2},{"s":"2013","lat":15.848,"h":-2.8},{"s":"2013","lat":15.895,"h":0.9},{"s":"2013","lat":15.937,"h":2.4},{"s":"2013","lat":15.979,"h":4.4},{"s":"2013","lat":16.021,"h":5.6},{"s":"2013","lat":16.053,"h":5.7},{"s":"2013","lat":16.085,"h":4.3},{"s":"2013","lat":16.127,"h":2.6},{"s":"2013","lat":16.158,"h":5.0},{"s":"2013","lat":16.19,"h":8.9},{"s":"2013","lat":16.232,"h":11.5},{"s":"2013","lat":16.274,"h":10.3},{"s":"2013","lat":16.29,"h":15.5},{"s":"2013","lat":16.321,"h":17.4},{"s":"2013","lat":16.348,"h":18.1},{"s":"2013","lat":16.379,"h":16.1},{"s":"2013","lat":16.411,"h":12.9},{"s":"2013","lat":16.442,"h":12.2},{"s":"2013","lat":16.468,"h":8.0},{"s":"2013","lat":16.479,"h":21.5},{"s":"2013","lat":16.49,"h":22.5},{"s":"2013","lat":16.5,"h":14.8},{"s":"2013","lat":16.526,"h":14.2},{"s":"2013","lat":16.542,"h":24.5},{"s":"2013","lat":16.556,"h":28.0},{"s":"2013","lat":16.563,"h":26.0},{"s":"2013","lat":16.574,"h":27.0},{"s":"2013","lat":16.589,"h":23.5},{"s":"2013","lat":16.621,"h":27.0},{"s":"2013","lat":16.652,"h":20.8},{"s":"2013","lat":16.673,"h":18.8},{"s":"2013","lat":16.697,"h":17.5},{"s":"2013","lat":16.699,"h":150.0}
],
"nov": [
{"s":"2011","lat":13.5,"h":-31.5},{"s":"2011","lat":13.53,"h":-31.3},{"s":"2011","lat":13.565,"h":-31.6},{"s":"2011","lat":13.59,"h":-31.4},{"s":"2011","lat":13.606,"h":-31.2},{"s":"2011","lat":13.612,"h":-30.0},{"s":"2011","lat":13.63,"h":-30.6},{"s":"2011","lat":13.648,"h":-30.2},{"s":"2011","lat":13.67,"h":-29.6},{"s":"2011","lat":13.69,"h":-29.9},{"s":"2011","lat":13.71,"h":-29.7},{"s":"2011","lat":13.731,"h":-30.5},{"s":"2011","lat":13.75,"h":-29.8},{"s":"2011","lat":13.773,"h":-29.7},{"s":"2011","lat":13.79,"h":-30.2},{"s":"2011","lat":13.815,"h":-29.4},{"s":"2011","lat":13.835,"h":-29.0},{"s":"2011","lat":13.856,"h":-29.5},{"s":"2011","lat":13.875,"h":-29.6},{"s":"2011","lat":13.898,"h":-29.2},{"s":"2011","lat":13.91,"h":-28.4},{"s":"2011","lat":13.929,"h":-28.8},{"s":"2011","lat":13.94,"h":-29.3},
{"s":"2011","lat":13.95,"h":-29.27},{"s":"2011","lat":13.955,"h":-29.23},{"s":"2011","lat":13.959,"h":-29.45},{"s":"2011","lat":13.962,"h":-29.76},{"s":"2011","lat":13.966,"h":-29.74},{"s":"2011","lat":13.968,"h":-29.8},{"s":"2011","lat":13.97,"h":-29.73},{"s":"2011","lat":13.974,"h":-29.8},{"s":"2011","lat":13.981,"h":-29.82},{"s":"2011","lat":13.984,"h":-30.67},{"s":"2011","lat":13.986,"h":-30.72},{"s":"2011","lat":13.989,"h":-29.56},{"s":"2011","lat":13.992,"h":-29.82},{"s":"2011","lat":13.995,"h":-30.2},{"s":"2011","lat":13.997,"h":-30.29},{"s":"2011","lat":14.002,"h":-30.31},{"s":"2011","lat":14.006,"h":-29.69},{"s":"2011","lat":14.011,"h":-29.71},{"s":"2011","lat":14.014,"h":-29.74},{"s":"2011","lat":14.017,"h":-30.82},{"s":"2011","lat":14.02,"h":-30.76},{"s":"2011","lat":14.023,"h":-30.82},{"s":"2011","lat":14.027,"h":-29.43},{"s":"2011","lat":14.032,"h":-29.42},{"s":"2011","lat":14.035,"h":-29.47},{"s":"2011","lat":14.038,"h":-30.16},{"s":"2011","lat":14.041,"h":-30.4},{"s":"2011","lat":14.045,"h":-30.62},{"s":"2011","lat":14.048,"h":-30.56},{"s":"2011","lat":14.052,"h":-30.72},{"s":"2011","lat":14.054,"h":-30.91},{"s":"2011","lat":14.057,"h":-31.07},{"s":"2011","lat":14.06,"h":-30.94},{"s":"2011","lat":14.062,"h":-29.25},{"s":"2011","lat":14.068,"h":-29.29},{"s":"2011","lat":14.076,"h":-29.31},{"s":"2011","lat":14.084,"h":-29.32},{"s":"2011","lat":14.092,"h":-29.25},{"s":"2011","lat":14.097,"h":-29.32},{"s":"2011","lat":14.105,"h":-29.32},{"s":"2011","lat":14.109,"h":-29.36},{"s":"2011","lat":14.115,"h":-29.31},{"s":"2011","lat":14.121,"h":-29.27},{"s":"2011","lat":14.124,"h":-30.03},{"s":"2011","lat":14.127,"h":-30.71},{"s":"2011","lat":14.132,"h":-30.94},{"s":"2011","lat":14.135,"h":-30.54},{"s":"2011","lat":14.138,"h":-30.38},{"s":"2011","lat":14.142,"h":-30.4},{"s":"2011","lat":14.148,"h":-30.36},{"s":"2011","lat":14.152,"h":-30.4},{"s":"2011","lat":14.158,"h":-30.32},{"s":"2011","lat":14.162,"h":-30.31},{"s":"2011","lat":14.164,"h":-29.18},{"s":"2011","lat":14.167,"h":-29.2},{"s":"2011","lat":14.17,"h":-29.42},{"s":"2011","lat":14.174,"h":-29.14},{"s":"2011","lat":14.179,"h":-29.12},{"s":"2011","lat":14.185,"h":-29.18},{"s":"2011","lat":14.191,"h":-29.16},{"s":"2011","lat":14.197,"h":-29.21},{"s":"2011","lat":14.203,"h":-29.16},{"s":"2011","lat":14.21,"h":-29.09},{"s":"2011","lat":14.213,"h":-29.31},{"s":"2011","lat":14.219,"h":-29.14},{"s":"2011","lat":14.225,"h":-29.19},{"s":"2011","lat":14.227,"h":-29.06},{"s":"2011","lat":14.229,"h":-31.34},{"s":"2011","lat":14.232,"h":-29.14},{"s":"2011","lat":14.236,"h":-29.14},{"s":"2011","lat":14.244,"h":-29.18},{"s":"2011","lat":14.252,"h":-29.15},{"s":"2011","lat":14.258,"h":-29.14},{"s":"2011","lat":14.261,"h":-29.17},{"s":"2011","lat":14.264,"h":-29.59},{"s":"2011","lat":14.267,"h":-29.14},{"s":"2011","lat":14.273,"h":-29.2},{"s":"2011","lat":14.279,"h":-29.11},{"s":"2011","lat":14.285,"h":-29.34},{"s":"2011","lat":14.291,"h":-29.18},{"s":"2011","lat":14.295,"h":-29.14},{"s":"2011","lat":14.301,"h":-29.22},{"s":"2011","lat":14.305,"h":-29.27},{"s":"2011","lat":14.309,"h":-29.18},{"s":"2011","lat":14.317,"h":-29.25},{"s":"2011","lat":14.324,"h":-29.34},{"s":"2011","lat":14.33,"h":-29.2},{"s":"2011","lat":14.338,"h":-29.23},{"s":"2011","lat":14.346,"h":-29.23},{"s":"2011","lat":14.354,"h":-29.24},{"s":"2011","lat":14.361,"h":-29.21},{"s":"2011","lat":14.363,"h":-30.1},{"s":"2011","lat":14.369,"h":-30.2},{"s":"2011","lat":14.373,"h":-30.03},{"s":"2011","lat":14.377,"h":-30.12},{"s":"2011","lat":14.383,"h":-30.07},{"s":"2011","lat":14.387,"h":-29.34},{"s":"2011","lat":14.391,"h":-29.27},{"s":"2011","lat":14.395,"h":-29.89},{"s":"2011","lat":14.397,"h":-29.09},{"s":"2011","lat":14.403,"h":-29.05},{"s":"2011","lat":14.408,"h":-28.83},{"s":"2011","lat":14.418,"h":-28.83},{"s":"2011","lat":14.428,"h":-28.8},{"s":"2011","lat":14.436,"h":-28.87},{"s":"2011","lat":14.44,"h":-28.62},{"s":"2011","lat":14.445,"h":-28.58},{"s":"2011","lat":14.451,"h":-28.38},{"s":"2011","lat":14.455,"h":-28.29},{"s":"2011","lat":14.46,"h":-28.18},{"s":"2011","lat":14.465,"h":-28.2},{"s":"2011","lat":14.469,"h":-27.93},{"s":"2011","lat":14.472,"h":-27.88},{"s":"2011","lat":14.474,"h":-28.18},{"s":"2011","lat":14.477,"h":-28.68},{"s":"2011","lat":14.481,"h":-28.58},{"s":"2011","lat":14.485,"h":-28.47},{"s":"2011","lat":14.487,"h":-28.36},{"s":"2011","lat":14.493,"h":-28.52},{"s":"2011","lat":14.496,"h":-27.83},{"s":"2011","lat":14.499,"h":-28.47},{"s":"2011","lat":14.5,"h":-28.43},
{"s":"2011","lat":14.521,"h":-27.6},{"s":"2011","lat":14.545,"h":-28.0},{"s":"2011","lat":14.563,"h":-27.0},{"s":"2011","lat":14.585,"h":-27.4},{"s":"2011","lat":14.604,"h":-27.6},{"s":"2011","lat":14.625,"h":-26.8},{"s":"2011","lat":14.646,"h":-26.3},{"s":"2011","lat":14.668,"h":-27.0},{"s":"2011","lat":14.688,"h":-26.3},{"s":"2011","lat":14.71,"h":-26.0},{"s":"2011","lat":14.73,"h":-25.6},{"s":"2011","lat":14.75,"h":-25.0},{"s":"2011","lat":14.771,"h":-25.3},{"s":"2011","lat":14.79,"h":-24.6},{"s":"2011","lat":14.813,"h":-24.3},{"s":"2011","lat":14.834,"h":-24.0},{"s":"2011","lat":14.855,"h":-25.0},{"s":"2011","lat":14.875,"h":-23.7},{"s":"2011","lat":14.895,"h":-23.2},{"s":"2011","lat":14.917,"h":-22.7},{"s":"2011","lat":14.94,"h":-22.0},{"s":"2011","lat":14.958,"h":-20.7},{"s":"2011","lat":14.98,"h":-21.5},{"s":"2011","lat":15.0,"h":-21.7},{"s":"2011","lat":15.02,"h":-20.8},{"s":"2011","lat":15.041,"h":-19.8},{"s":"2011","lat":15.06,"h":-20.3},{"s":"2011","lat":15.073,"h":-20.7},{"s":"2011","lat":15.107,"h":-20.4},
{"s":"2011","lat":15.138,"h":-20.7},{"s":"2011","lat":15.17,"h":-18.4},{"s":"2011","lat":15.201,"h":-19.4},{"s":"2011","lat":15.233,"h":-18.9},{"s":"2011","lat":15.27,"h":-18.1},{"s":"2011","lat":15.278,"h":-13.2},{"s":"2011","lat":15.283,"h":-17.1},{"s":"2011","lat":15.288,"h":-12.6},{"s":"2011","lat":15.296,"h":-18.8},{"s":"2011","lat":15.304,"h":-14.5},{"s":"2011","lat":15.322,"h":-10.6},{"s":"2011","lat":15.338,"h":-11.6},{"s":"2011","lat":15.351,"h":-11.3},{"s":"2011","lat":15.359,"h":-13.9},{"s":"2011","lat":15.375,"h":-15.8},{"s":"2011","lat":15.401,"h":-15.5},{"s":"2011","lat":15.422,"h":-14.9},{"s":"2011","lat":15.433,"h":-8.0},{"s":"2011","lat":15.441,"h":-2.5},{"s":"2011","lat":15.448,"h":4.4},{"s":"2011","lat":15.456,"h":10.9},{"s":"2011","lat":15.462,"h":7.0},{"s":"2011","lat":15.466,"h":25.9},{"s":"2011","lat":15.469,"h":24.6},{"s":"2011","lat":15.473,"h":36.0},{"s":"2011","lat":15.478,"h":36.4},{"s":"2011","lat":15.483,"h":36.4},{"s":"2011","lat":15.487,"h":35.7},{"s":"2011","lat":15.492,"h":36.0},{"s":"2011","lat":15.498,"h":30.5},{"s":"2011","lat":15.504,"h":24.6},{"s":"2011","lat":15.508,"h":34.7},{"s":"2011","lat":15.515,"h":22.0},{"s":"2011","lat":15.522,"h":19.7},{"s":"2011","lat":15.527,"h":17.4},{"s":"2011","lat":15.536,"h":19.4},{"s":"2011","lat":15.548,"h":21.3},{"s":"2011","lat":15.559,"h":22.0},{"s":"2011","lat":15.564,"h":20.7},{"s":"2011","lat":15.569,"h":13.2},{"s":"2011","lat":15.575,"h":25.3},{"s":"2011","lat":15.58,"h":24.9},{"s":"2011","lat":15.585,"h":17.4},{"s":"2011","lat":15.596,"h":13.5},{"s":"2011","lat":15.606,"h":5.0},{"s":"2011","lat":15.611,"h":9.6},{"s":"2011","lat":15.617,"h":4.4},{"s":"2011","lat":15.622,"h":-1.5},{"s":"2011","lat":15.633,"h":-4.7},{"s":"2011","lat":15.651,"h":-8.1},{"s":"2011","lat":15.674,"h":-8.1},{"s":"2011","lat":15.69,"h":-8.0},{"s":"2011","lat":15.695,"h":-17.5},{"s":"2011","lat":15.7,"h":-8.3},{"s":"2011","lat":15.716,"h":-9.6},{"s":"2011","lat":15.732,"h":-8.5},{"s":"2011","lat":15.769,"h":-8.1},{"s":"2011","lat":15.811,"h":-8.1},{"s":"2011","lat":15.869,"h":-8.0},{"s":"2011","lat":15.876,"h":-7.0},{"s":"2011","lat":15.916,"h":-7.0},{"s":"2011","lat":15.927,"h":-6.4},{"s":"2011","lat":15.969,"h":-6.4},{"s":"2011","lat":16.0,"h":-6.0},{"s":"2011","lat":16.032,"h":-4.1},{"s":"2011","lat":16.053,"h":-5.1},{"s":"2011","lat":16.095,"h":-5.1},{"s":"2011","lat":16.116,"h":-2.5},{"s":"2011","lat":16.127,"h":-4.1},{"s":"2011","lat":16.137,"h":-5.4},{"s":"2011","lat":16.148,"h":-2.0},{"s":"2011","lat":16.169,"h":-3.8},{"s":"2011","lat":16.211,"h":-3.1},{"s":"2011","lat":16.242,"h":-0.5},{"s":"2011","lat":16.258,"h":-3.1},{"s":"2011","lat":16.284,"h":-0.8},{"s":"2011","lat":16.305,"h":0.2},{"s":"2011","lat":16.326,"h":1.5},{"s":"2011","lat":16.347,"h":-0.5},{"s":"2011","lat":16.379,"h":0.4},{"s":"2011","lat":16.384,"h":1.8},{"s":"2011","lat":16.411,"h":0.4},{"s":"2011","lat":16.442,"h":0.8},{"s":"2011","lat":16.447,"h":2.4},{"s":"2011","lat":16.463,"h":-3.1},{"s":"2011","lat":16.474,"h":0.2},{"s":"2011","lat":16.505,"h":0.4},{"s":"2011","lat":16.547,"h":1.5},{"s":"2011","lat":16.589,"h":2.1},{"s":"2011","lat":16.61,"h":3.1},{"s":"2011","lat":16.631,"h":3.7},{"s":"2011","lat":16.642,"h":2.8},{"s":"2011","lat":16.663,"h":4.7},{"s":"2011","lat":16.679,"h":4.1},{"s":"2011","lat":16.7,"h":3.9},
{"s":"2013","lat":13.5,"h":-31.3},{"s":"2013","lat":13.53,"h":-31.5},{"s":"2013","lat":13.565,"h":-31.4},{"s":"2013","lat":13.59,"h":-31.1},{"s":"2013","lat":13.606,"h":-30.4},{"s":"2013","lat":13.612,"h":-30.2},{"s":"2013","lat":13.63,"h":-30.8},{"s":"2013","lat":13.648,"h":-29.8},{"s":"2013","lat":13.67,"h":-30.0},{"s":"2013","lat":13.69,"h":-29.6},{"s":"2013","lat":13.71,"h":-30.1},{"s":"2013","lat":13.731,"h":-30.2},{"s":"2013","lat":13.75,"h":-29.6},{"s":"2013","lat":13.773,"h":-29.9},{"s":"2013","lat":13.79,"h":-29.5},{"s":"2013","lat":13.815,"h":-28.4},{"s":"2013","lat":13.835,"h":-29.3},{"s":"2013","lat":13.856,"h":-29.2},{"s":"2013","lat":13.875,"h":-29.8},{"s":"2013","lat":13.898,"h":-29.0},{"s":"2013","lat":13.91,"h":-28.7},{"s":"2013","lat":13.929,"h":-29.0},{"s":"2013","lat":13.94,"h":-29.6},
{"s":"2013","lat":13.95,"h":-29.74},{"s":"2013","lat":13.953,"h":-29.27},{"s":"2013","lat":13.955,"h":-29.16},{"s":"2013","lat":13.959,"h":-29.27},{"s":"2013","lat":13.961,"h":-30.58},{"s":"2013","lat":13.966,"h":-29.74},{"s":"2013","lat":13.968,"h":-29.04},{"s":"2013","lat":13.972,"h":-29.31},{"s":"2013","lat":13.975,"h":-29.96},{"s":"2013","lat":13.978,"h":-30.38},{"s":"2013","lat":13.984,"h":-30.43},{"s":"2013","lat":13.989,"h":-30.58},{"s":"2013","lat":13.992,"h":-30.85},{"s":"2013","lat":13.997,"h":-30.87},{"s":"2013","lat":14.0,"h":-30.62},{"s":"2013","lat":14.006,"h":-30.74},{"s":"2013","lat":14.014,"h":-30.74},{"s":"2013","lat":14.02,"h":-30.63},{"s":"2013","lat":14.025,"h":-30.78},{"s":"2013","lat":14.033,"h":-30.8},{"s":"2013","lat":14.039,"h":-30.62},{"s":"2013","lat":14.045,"h":-30.56},{"s":"2013","lat":14.052,"h":-30.8},{"s":"2013","lat":14.056,"h":-30.94},{"s":"2013","lat":14.06,"h":-30.76},{"s":"2013","lat":14.063,"h":-30.49},{"s":"2013","lat":14.068,"h":-30.49},{"s":"2013","lat":14.072,"h":-30.8},{"s":"2013","lat":14.076,"h":-31.02},{"s":"2013","lat":14.08,"h":-30.85},{"s":"2013","lat":14.085,"h":-30.91},{"s":"2013","lat":14.09,"h":-30.69},{"s":"2013","lat":14.095,"h":-30.32},{"s":"2013","lat":14.099,"h":-29.85},{"s":"2013","lat":14.101,"h":-29.85},{"s":"2013","lat":14.104,"h":-31.14},{"s":"2013","lat":14.107,"h":-30.76},{"s":"2013","lat":14.111,"h":-30.62},{"s":"2013","lat":14.117,"h":-30.76},{"s":"2013","lat":14.121,"h":-30.29},{"s":"2013","lat":14.124,"h":-30.87},{"s":"2013","lat":14.127,"h":-31.11},{"s":"2013","lat":14.132,"h":-30.91},{"s":"2013","lat":14.138,"h":-30.89},{"s":"2013","lat":14.144,"h":-30.94},{"s":"2013","lat":14.15,"h":-30.87},{"s":"2013","lat":14.155,"h":-30.94},{"s":"2013","lat":14.158,"h":-31.42},{"s":"2013","lat":14.162,"h":-31.42},{"s":"2013","lat":14.164,"h":-30.87},{"s":"2013","lat":14.166,"h":-31.38},{"s":"2013","lat":14.17,"h":-31.45},{"s":"2013","lat":14.179,"h":-31.49},{"s":"2013","lat":14.183,"h":-31.42},{"s":"2013","lat":14.187,"h":-31.36},{"s":"2013","lat":14.191,"h":-30.56},{"s":"2013","lat":14.197,"h":-30.54},{"s":"2013","lat":14.203,"h":-30.52},{"s":"2013","lat":14.209,"h":-30.54},{"s":"2013","lat":14.211,"h":-31.53},{"s":"2013","lat":14.215,"h":-31.82},{"s":"2013","lat":14.219,"h":-30.43},{"s":"2013","lat":14.224,"h":-30.65},{"s":"2013","lat":14.228,"h":-31.23},{"s":"2013","lat":14.232,"h":-31.63},{"s":"2013","lat":14.236,"h":-31.67},{"s":"2013","lat":14.24,"h":-31.27},{"s":"2013","lat":14.244,"h":-30.47},{"s":"2013","lat":14.248,"h":-30.94},{"s":"2013","lat":14.252,"h":-31.67},{"s":"2013","lat":14.256,"h":-31.56},{"s":"2013","lat":14.258,"h":-30.49},{"s":"2013","lat":14.261,"h":-31.71},{"s":"2013","lat":14.264,"h":-31.63},{"s":"2013","lat":14.269,"h":-31.12},{"s":"2013","lat":14.273,"h":-30.43},{"s":"2013","lat":14.281,"h":-30.4},{"s":"2013","lat":14.289,"h":-30.42},{"s":"2013","lat":14.297,"h":-30.43},{"s":"2013","lat":14.303,"h":-30.36},{"s":"2013","lat":14.311,"h":-30.42},{"s":"2013","lat":14.322,"h":-30.38},{"s":"2013","lat":14.33,"h":-30.34},{"s":"2013","lat":14.336,"h":-30.38},{"s":"2013","lat":14.344,"h":-30.31},{"s":"2013","lat":14.353,"h":-30.32},{"s":"2013","lat":14.359,"h":-30.29},{"s":"2013","lat":14.365,"h":-30.36},{"s":"2013","lat":14.37,"h":-30.92},{"s":"2013","lat":14.375,"h":-30.76},{"s":"2013","lat":14.381,"h":-30.87},{"s":"2013","lat":14.385,"h":-30.4},{"s":"2013","lat":14.391,"h":-30.14},{"s":"2013","lat":14.396,"h":-29.85},{"s":"2013","lat":14.4,"h":-29.6},{"s":"2013","lat":14.406,"h":-29.85},{"s":"2013","lat":14.416,"h":-29.8},{"s":"2013","lat":14.422,"h":-29.82},{"s":"2013","lat":14.432,"h":-29.63},{"s":"2013","lat":14.44,"h":-29.63},{"s":"2013","lat":14.443,"h":-30.36},{"s":"2013","lat":14.445,"h":-28.91},{"s":"2013","lat":14.449,"h":-29.09},{"s":"2013","lat":14.453,"h":-28.98},{"s":"2013","lat":14.456,"h":-28.62},{"s":"2013","lat":14.46,"h":-28.18},{"s":"2013","lat":14.467,"h":-28.29},{"s":"2013","lat":14.473,"h":-28.33},{"s":"2013","lat":14.479,"h":-28.64},{"s":"2013","lat":14.483,"h":-28.56},{"s":"2013","lat":14.487,"h":-28.23},{"s":"2013","lat":14.49,"h":-28.25},{"s":"2013","lat":14.492,"h":-30.29},{"s":"2013","lat":14.496,"h":-30.31},{"s":"2013","lat":14.499,"h":-29.83},{"s":"2013","lat":14.5,"h":-29.92},
{"s":"2013","lat":14.521,"h":-27.4},{"s":"2013","lat":14.545,"h":-27.8},{"s":"2013","lat":14.563,"h":-27.2},{"s":"2013","lat":14.585,"h":-27.6},{"s":"2013","lat":14.604,"h":-27.3},{"s":"2013","lat":14.625,"h":-27.0},{"s":"2013","lat":14.646,"h":-26.6},{"s":"2013","lat":14.668,"h":-26.8},{"s":"2013","lat":14.688,"h":-26.0},{"s":"2013","lat":14.71,"h":-26.3},{"s":"2013","lat":14.73,"h":-25.4},{"s":"2013","lat":14.75,"h":-25.3},{"s":"2013","lat":14.771,"h":-25.0},{"s":"2013","lat":14.79,"h":-26.5},{"s":"2013","lat":14.8,"h":-24.7},{"s":"2013","lat":14.813,"h":-24.5},{"s":"2013","lat":14.834,"h":-24.3},{"s":"2013","lat":14.855,"h":-24.8},{"s":"2013","lat":14.875,"h":-24.0},{"s":"2013","lat":14.895,"h":-23.0},{"s":"2013","lat":14.917,"h":-22.9},{"s":"2013","lat":14.94,"h":-21.8},{"s":"2013","lat":14.958,"h":-21.0},{"s":"2013","lat":14.98,"h":-21.3},{"s":"2013","lat":15.0,"h":-21.5},{"s":"2013","lat":15.02,"h":-21.0},{"s":"2013","lat":15.041,"h":-20.0},{"s":"2013","lat":15.06,"h":-20.5},{"s":"2013","lat":15.073,"h":-20.5},{"s":"2013","lat":15.107,"h":-20.6},
{"s":"2013","lat":15.138,"h":-20.6},{"s":"2013","lat":15.165,"h":-19.0},{"s":"2013","lat":15.172,"h":-26.6},{"s":"2013","lat":15.178,"h":-19.2},{"s":"2013","lat":15.201,"h":-19.2},{"s":"2013","lat":15.233,"h":-18.7},{"s":"2013","lat":15.27,"h":-18.0},{"s":"2013","lat":15.278,"h":-14.0},{"s":"2013","lat":15.283,"h":-16.5},{"s":"2013","lat":15.288,"h":-15.0},{"s":"2013","lat":15.296,"h":-16.0},{"s":"2013","lat":15.304,"h":-13.5},{"s":"2013","lat":15.322,"h":-11.0},{"s":"2013","lat":15.338,"h":-11.3},{"s":"2013","lat":15.351,"h":-12.0},{"s":"2013","lat":15.359,"h":-13.5},{"s":"2013","lat":15.375,"h":-15.5},{"s":"2013","lat":15.401,"h":-15.8},{"s":"2013","lat":15.422,"h":-14.6},{"s":"2013","lat":15.433,"h":-8.5},{"s":"2013","lat":15.441,"h":-3.0},{"s":"2013","lat":15.448,"h":4.0},{"s":"2013","lat":15.456,"h":10.0},{"s":"2013","lat":15.462,"h":20.0},{"s":"2013","lat":15.466,"h":28.0},{"s":"2013","lat":15.469,"h":30.0},{"s":"2013","lat":15.473,"h":45.5},{"s":"2013","lat":15.475,"h":33.0},{"s":"2013","lat":15.478,"h":35.8},{"s":"2013","lat":15.483,"h":36.0},{"s":"2013","lat":15.487,"h":34.0},{"s":"2013","lat":15.492,"h":28.0},{"s":"2013","lat":15.498,"h":24.0},{"s":"2013","lat":15.504,"h":22.0},{"s":"2013","lat":15.508,"h":20.0},{"s":"2013","lat":15.515,"h":18.5},{"s":"2013","lat":15.522,"h":18.0},{"s":"2013","lat":15.527,"h":14.5},{"s":"2013","lat":15.536,"h":15.5},{"s":"2013","lat":15.548,"h":20.5},{"s":"2013","lat":15.559,"h":21.5},{"s":"2013","lat":15.564,"h":21.0},{"s":"2013","lat":15.575,"h":22.0},{"s":"2013","lat":15.58,"h":17.0},{"s":"2013","lat":15.585,"h":14.5},{"s":"2013","lat":15.596,"h":11.0},{"s":"2013","lat":15.606,"h":4.0},{"s":"2013","lat":15.611,"h":6.0},{"s":"2013","lat":15.617,"h":2.0},{"s":"2013","lat":15.622,"h":-2.5},{"s":"2013","lat":15.633,"h":-5.5},{"s":"2013","lat":15.651,"h":-10.0},{"s":"2013","lat":15.674,"h":-10.0},{"s":"2013","lat":15.69,"h":-10.0},{"s":"2013","lat":15.7,"h":-10.2},{"s":"2013","lat":15.716,"h":-10.0},{"s":"2013","lat":15.732,"h":-10.0},{"s":"2013","lat":15.769,"h":-10.0},{"s":"2013","lat":15.811,"h":-10.0},{"s":"2013","lat":15.869,"h":-9.9},{"s":"2013","lat":15.873,"h":-12.9},{"s":"2013","lat":15.876,"h":-8.5},{"s":"2013","lat":15.916,"h":-7.8},{"s":"2013","lat":15.922,"h":-12.2},{"s":"2013","lat":15.927,"h":-6.6},{"s":"2013","lat":15.969,"h":-6.6},{"s":"2013","lat":16.0,"h":-6.3},{"s":"2013","lat":16.032,"h":-4.6},{"s":"2013","lat":16.053,"h":-5.5},{"s":"2013","lat":16.095,"h":-5.0},{"s":"2013","lat":16.116,"h":-3.0},{"s":"2013","lat":16.127,"h":-4.4},{"s":"2013","lat":16.137,"h":-5.2},{"s":"2013","lat":16.145,"h":-7.3},{"s":"2013","lat":16.148,"h":-2.6},{"s":"2013","lat":16.169,"h":-4.0},{"s":"2013","lat":16.211,"h":-3.4},{"s":"2013","lat":16.242,"h":-1.0},{"s":"2013","lat":16.258,"h":-3.3},{"s":"2013","lat":16.284,"h":-1.2},{"s":"2013","lat":16.305,"h":-0.4},{"s":"2013","lat":16.326,"h":1.0},{"s":"2013","lat":16.347,"h":-0.8},{"s":"2013","lat":16.379,"h":0.1},{"s":"2013","lat":16.395,"h":-4.2},{"s":"2013","lat":16.411,"h":0.1},{"s":"2013","lat":16.442,"h":0.5},{"s":"2013","lat":16.452,"h":-6.7},{"s":"2013","lat":16.46,"h":-6.7},{"s":"2013","lat":16.474,"h":0.0},{"s":"2013","lat":16.505,"h":0.6},{"s":"2013","lat":16.547,"h":1.2},{"s":"2013","lat":16.586,"h":-3.4},{"s":"2013","lat":16.589,"h":2.4},{"s":"2013","lat":16.61,"h":2.8},{"s":"2013","lat":16.631,"h":3.4},{"s":"2013","lat":16.642,"h":3.0},{"s":"2013","lat":16.663,"h":4.4},{"s":"2013","lat":16.679,"h":4.4},{"s":"2013","lat":16.7,"h":4.1}
]
},
"config": {
  "view": {"stroke": "black", "strokeWidth": 2},
  "axis": {"grid": false, "domain": false, "tickSize": -17, "tickWidth": 1.5, "tickColor": "black", "labelFont": "Liberation Sans", "labelFontSize": 40, "labelColor": "black", "titleFont": "Liberation Sans", "titleFontSize": 40, "titleFontWeight": "normal", "titleColor": "black", "labelFlush": false, "labelOverlap": false, "labelBound": false},
  "axisBottom": {"labelPadding": 33},
  "axisLeft": {"labelPadding": 27},
  "axisRight": {"labelPadding": 26},
  "axisTop": {"labelPadding": 26}
},
"columns": 2,
"spacing": {"row": 159, "column": 151},
"bounds": "flush",
"resolve": {"scale": {"color": "independent", "strokeDash": "independent"}},
"concat": [
{
"width": 1727, "height": 782,
"resolve": {"axis": {"x": "independent", "y": "independent"}},
"layer": [
{"data": {"name": "aug"}, "mark": {"type": "line", "strokeWidth": 3.2, "clip": true},
 "encoding": {
  "x": {"field": "lat", "type": "quantitative", "scale": {"domain": [13.5, 16.7], "nice": false, "zero": false}, "axis": {"orient": "bottom", "values": [13.5,14,14.5,15,15.5,16,16.5], "format": "~r", "title": "Latitude", "titleY": 91, "titleBaseline": "alphabetic"}},
  "y": {"field": "h", "type": "quantitative", "scale": {"domain": [-40, 40], "nice": false, "zero": false}, "axis": {"orient": "left", "values": [-40,-30,-20,-10,0,10,20,30,40], "format": "~r", "title": "Height [m]", "titleX": -112, "titleY": 391, "titleAngle": -90, "titleBaseline": "middle", "titleAlign": "center"}},
  "color": {"field": "s", "type": "nominal", "scale": {"domain": ["2011","2013"], "range": ["#000000", "#3264d2"]}, "legend": {"title": null, "orient": "none", "legendX": 52, "legendY": 24, "symbolType": "M-3,0L3,0", "symbolSize": 700, "symbolStrokeWidth": 3, "labelFont": "Liberation Sans", "labelFontSize": 40, "labelColor": "black", "labelOffset": 20, "rowPadding": 8, "padding": 0, "labelLimit": 0, "labelExpr": "datum.value == '2011' ? '2011 (flood)' : '2013'"}},
  "strokeDash": {"field": "s", "type": "nominal", "scale": {"domain": ["2011","2013"], "range": [[1,0],[16,11]]}, "legend": {"title": null, "orient": "none", "legendX": 52, "legendY": 24, "symbolType": "M-3,0L3,0", "symbolSize": 700, "symbolStrokeWidth": 3, "labelFont": "Liberation Sans", "labelFontSize": 40, "labelColor": "black", "labelOffset": 20, "rowPadding": 8, "padding": 0, "labelLimit": 0, "labelExpr": "datum.value == '2011' ? '2011 (flood)' : '2013'"}}
 }},
{"data": {"values": [{}]}, "mark": {"type": "rect", "filled": false, "color": "black", "strokeWidth": 1.5},
 "encoding": {
  "x": {"datum": 15.7, "type": "quantitative", "axis": {"orient": "top", "values": [13.5,14,14.5,15,15.5,16,16.5], "labels": false, "title": null}},
  "x2": {"datum": 16.4},
  "y": {"datum": 0, "type": "quantitative", "axis": {"orient": "right", "values": [-40,-30,-20,-10,0,10,20,30,40], "labels": false, "title": null}},
  "y2": {"datum": -14}
 }},
{"data": {"values": [{}]}, "mark": {"type": "rule", "strokeWidth": 7, "color": "black"},
 "encoding": {"x": {"datum": 16.394, "type": "quantitative", "axis": null}, "y": {"datum": -8.5, "type": "quantitative", "axis": null}, "x2": {"datum": 17.277}, "y2": {"datum": 4.25}}},
{"data": {"values": [{}]}, "mark": {"type": "point", "shape": "M1,0L-1,-0.85L-1,0.85Z", "filled": true, "color": "black", "opacity": 1, "size": 900, "angle": 345.4, "strokeWidth": 0},
 "encoding": {"x": {"datum": 17.277, "type": "quantitative", "axis": null}, "y": {"datum": 4.25, "type": "quantitative", "axis": null}}},
{"data": {"values": [{}]}, "mark": {"type": "text", "text": "August:", "font": "Open Sans", "fontWeight": "bold", "fontSize": 40, "align": "left", "baseline": "middle", "color": "black"},
 "encoding": {"x": {"datum": 14.538, "type": "quantitative", "axis": null}, "y": {"datum": 35, "type": "quantitative", "axis": null}}},
{"data": {"values": [{}]}, "mark": {"type": "text", "text": "Flooding has begun in the northern regions", "font": "Open Sans", "fontSize": 41.5, "align": "left", "baseline": "middle", "color": "black"},
 "encoding": {"x": {"datum": 14.836, "type": "quantitative", "axis": null}, "y": {"datum": 35, "type": "quantitative", "axis": null}}}
]
},
{
"width": 1101, "height": 782,
"resolve": {"axis": {"x": "independent", "y": "independent"}},
"layer": [
{"data": {"name": "aug"}, "mark": {"type": "line", "strokeWidth": 3, "clip": true},
 "encoding": {
  "x": {"field": "lat", "type": "quantitative", "scale": {"domain": [15.7, 16.4], "nice": false, "zero": false}, "axis": {"orient": "bottom", "values": [15.8,16,16.2,16.4], "format": "~r", "title": "Latitude", "titleY": 91, "titleBaseline": "alphabetic"}},
  "y": {"field": "h", "type": "quantitative", "scale": {"domain": [-14, 2], "nice": false, "zero": false}, "axis": {"orient": "right", "values": [-14,-12,-10,-8,-6,-4,-2,0,2], "format": "~r", "title": "Height [m]", "titleX": 111, "titleY": 391, "titleAngle": -90, "titleBaseline": "middle", "titleAlign": "center"}},
  "color": {"field": "s", "type": "nominal", "scale": {"domain": ["2011","2013"], "range": ["#000000", "#3264d2"]}, "legend": null},
  "strokeDash": {"field": "s", "type": "nominal", "scale": {"domain": ["2011","2013"], "range": [[1,0],[16,11]]}, "legend": null}
 }},
{"data": {"values": [{}]}, "mark": {"type": "text", "text": "Zoom", "font": "Open Sans", "fontWeight": "bold", "fontSize": 40, "align": "left", "baseline": "middle", "color": "black"},
 "encoding": {
  "x": {"datum": 15.713, "type": "quantitative", "axis": {"orient": "top", "values": [15.8,16,16.2,16.4], "labels": false, "title": null}},
  "y": {"datum": 1.0, "type": "quantitative", "axis": {"orient": "left", "values": [-14,-12,-10,-8,-6,-4,-2,0,2], "labels": false, "title": null}}
 }}
]
},
{
"width": 1727, "height": 782,
"resolve": {"axis": {"x": "independent", "y": "independent"}},
"layer": [
{"data": {"name": "oct"}, "mark": {"type": "line", "strokeWidth": 3.2, "clip": true},
 "encoding": {
  "x": {"field": "lat", "type": "quantitative", "scale": {"domain": [13.5, 16.7], "nice": false, "zero": false}, "axis": {"orient": "bottom", "values": [13.5,14,14.5,15,15.5,16,16.5], "format": "~r", "title": "Latitude", "titleY": 91, "titleBaseline": "alphabetic"}},
  "y": {"field": "h", "type": "quantitative", "scale": {"domain": [-50, 150], "nice": false, "zero": false}, "axis": {"orient": "left", "values": [-50,0,50,100,150], "format": "~r", "title": "Height [m]", "titleX": -112, "titleY": 391, "titleAngle": -90, "titleBaseline": "middle", "titleAlign": "center"}},
  "color": {"field": "s", "type": "nominal", "scale": {"domain": ["2011","2013"], "range": ["#000000", "#3264d2"]}, "legend": {"title": null, "orient": "none", "legendX": 52, "legendY": 24, "symbolType": "M-3,0L3,0", "symbolSize": 700, "symbolStrokeWidth": 3, "labelFont": "Liberation Sans", "labelFontSize": 40, "labelColor": "black", "labelOffset": 20, "rowPadding": 8, "padding": 0, "labelLimit": 0, "labelExpr": "datum.value == '2011' ? '2011 (flood)' : '2013'"}},
  "strokeDash": {"field": "s", "type": "nominal", "scale": {"domain": ["2011","2013"], "range": [[1,0],[16,11]]}, "legend": {"title": null, "orient": "none", "legendX": 52, "legendY": 24, "symbolType": "M-3,0L3,0", "symbolSize": 700, "symbolStrokeWidth": 3, "labelFont": "Liberation Sans", "labelFontSize": 40, "labelColor": "black", "labelOffset": 20, "rowPadding": 8, "padding": 0, "labelLimit": 0, "labelExpr": "datum.value == '2011' ? '2011 (flood)' : '2013'"}}
 }},
{"data": {"values": [{}]}, "mark": {"type": "rect", "filled": false, "color": "black", "strokeWidth": 1.5},
 "encoding": {
  "x": {"datum": 14.1, "type": "quantitative", "axis": {"orient": "top", "values": [13.5,14,14.5,15,15.5,16,16.5], "labels": false, "title": null}},
  "x2": {"datum": 15.15},
  "y": {"datum": -18, "type": "quantitative", "axis": {"orient": "right", "values": [-50,0,50,100,150], "labels": false, "title": null}},
  "y2": {"datum": -34}
 }},
{"data": {"values": [{}]}, "mark": {"type": "rule", "strokeWidth": 7, "color": "black"},
 "encoding": {"x": {"datum": 15.164, "type": "quantitative", "axis": null}, "y": {"datum": -20.1, "type": "quantitative", "axis": null}, "x2": {"datum": 17.277}, "y2": {"datum": 55.8}}},
{"data": {"values": [{}]}, "mark": {"type": "point", "shape": "M1,0L-1,-0.85L-1,0.85Z", "filled": true, "color": "black", "opacity": 1, "size": 900, "angle": 345.4, "strokeWidth": 0},
 "encoding": {"x": {"datum": 17.277, "type": "quantitative", "axis": null}, "y": {"datum": 55.8, "type": "quantitative", "axis": null}}},
{"data": {"values": [{}]}, "mark": {"type": "text", "text": "October:", "font": "Open Sans", "fontWeight": "bold", "fontSize": 40, "align": "left", "baseline": "middle", "color": "black"},
 "encoding": {"x": {"datum": 14.538, "type": "quantitative", "axis": null}, "y": {"datum": 138.5, "type": "quantitative", "axis": null}}},
{"data": {"values": [{}]}, "mark": {"type": "text", "text": "The southern regions of Thailand have become", "font": "Open Sans", "fontSize": 41.5, "align": "left", "baseline": "middle", "color": "black"},
 "encoding": {"x": {"datum": 14.88, "type": "quantitative", "axis": null}, "y": {"datum": 138.5, "type": "quantitative", "axis": null}}},
{"data": {"values": [{}]}, "mark": {"type": "text", "text": "flooded.", "font": "Open Sans", "fontSize": 41.5, "align": "left", "baseline": "middle", "color": "black"},
 "encoding": {"x": {"datum": 14.538, "type": "quantitative", "axis": null}, "y": {"datum": 124.8, "type": "quantitative", "axis": null}}}
]
},
{
"width": 1101, "height": 782,
"resolve": {"axis": {"x": "independent", "y": "independent"}},
"layer": [
{"data": {"name": "oct"}, "mark": {"type": "line", "strokeWidth": 3, "clip": true},
 "encoding": {
  "x": {"field": "lat", "type": "quantitative", "scale": {"domain": [14.1, 15.15], "nice": false, "zero": false}, "axis": {"orient": "bottom", "values": [14.2,14.6,15], "format": "~r", "title": "Latitude", "titleY": 91, "titleBaseline": "alphabetic"}},
  "y": {"field": "h", "type": "quantitative", "scale": {"domain": [-34, -18], "nice": false, "zero": false}, "axis": {"orient": "right", "values": [-33,-31,-29,-27,-25,-23,-21,-19], "format": "~r", "title": "Height [m]", "titleX": 111, "titleY": 391, "titleAngle": -90, "titleBaseline": "middle", "titleAlign": "center"}},
  "color": {"field": "s", "type": "nominal", "scale": {"domain": ["2011","2013"], "range": ["#000000", "#3264d2"]}, "legend": null},
  "strokeDash": {"field": "s", "type": "nominal", "scale": {"domain": ["2011","2013"], "range": [[1,0],[16,11]]}, "legend": null}
 }},
{"data": {"values": [{}]}, "mark": {"type": "text", "text": "Zoom", "font": "Open Sans", "fontWeight": "bold", "fontSize": 40, "align": "left", "baseline": "middle", "color": "black"},
 "encoding": {
  "x": {"datum": 14.12, "type": "quantitative", "axis": {"orient": "top", "values": [14.2,14.6,15], "labels": false, "title": null}},
  "y": {"datum": -18.94, "type": "quantitative", "axis": {"orient": "left", "values": [-33,-31,-29,-27,-25,-23,-21,-19], "labels": false, "title": null}}
 }}
]
},
{
"width": 1727, "height": 782,
"resolve": {"axis": {"x": "independent", "y": "independent"}},
"layer": [
{"data": {"name": "nov"}, "mark": {"type": "line", "strokeWidth": 3.2, "clip": true},
 "encoding": {
  "x": {"field": "lat", "type": "quantitative", "scale": {"domain": [13.5, 16.7], "nice": false, "zero": false}, "axis": {"orient": "bottom", "values": [13.5,14,14.5,15,15.5,16,16.5], "format": "~r", "title": "Latitude", "titleY": 91, "titleBaseline": "alphabetic"}},
  "y": {"field": "h", "type": "quantitative", "scale": {"domain": [-40, 60], "nice": false, "zero": false}, "axis": {"orient": "left", "values": [-40,-20,0,20,40,60], "format": "~r", "title": "Height [m]", "titleX": -112, "titleY": 391, "titleAngle": -90, "titleBaseline": "middle", "titleAlign": "center"}},
  "color": {"field": "s", "type": "nominal", "scale": {"domain": ["2011","2013"], "range": ["#000000", "#3264d2"]}, "legend": {"title": null, "orient": "none", "legendX": 52, "legendY": 24, "symbolType": "M-3,0L3,0", "symbolSize": 700, "symbolStrokeWidth": 3, "labelFont": "Liberation Sans", "labelFontSize": 40, "labelColor": "black", "labelOffset": 20, "rowPadding": 8, "padding": 0, "labelLimit": 0, "labelExpr": "datum.value == '2011' ? '2011 (flood)' : '2013'"}},
  "strokeDash": {"field": "s", "type": "nominal", "scale": {"domain": ["2011","2013"], "range": [[1,0],[16,11]]}, "legend": {"title": null, "orient": "none", "legendX": 52, "legendY": 24, "symbolType": "M-3,0L3,0", "symbolSize": 700, "symbolStrokeWidth": 3, "labelFont": "Liberation Sans", "labelFontSize": 40, "labelColor": "black", "labelOffset": 20, "rowPadding": 8, "padding": 0, "labelLimit": 0, "labelExpr": "datum.value == '2011' ? '2011 (flood)' : '2013'"}}
 }},
{"data": {"values": [{}]}, "mark": {"type": "rect", "filled": false, "color": "black", "strokeWidth": 1.5},
 "encoding": {
  "x": {"datum": 13.95, "type": "quantitative", "axis": {"orient": "top", "values": [13.5,14,14.5,15,15.5,16,16.5], "labels": false, "title": null}},
  "x2": {"datum": 14.5},
  "y": {"datum": -27.85, "type": "quantitative", "axis": {"orient": "right", "values": [-40,-20,0,20,40,60], "labels": false, "title": null}},
  "y2": {"datum": -31.4}
 }},
{"data": {"values": [{}]}, "mark": {"type": "rule", "strokeWidth": 7, "color": "black"},
 "encoding": {"x": {"datum": 14.334, "type": "quantitative", "axis": null}, "y": {"datum": -27.7, "type": "quantitative", "axis": null}, "x2": {"datum": 17.168}, "y2": {"datum": 30.7}}},
{"data": {"values": [{}]}, "mark": {"type": "point", "shape": "M1,0L-1,-0.85L-1,0.85Z", "filled": true, "color": "black", "opacity": 1, "size": 900, "angle": 343.4, "strokeWidth": 0},
 "encoding": {"x": {"datum": 17.168, "type": "quantitative", "axis": null}, "y": {"datum": 30.7, "type": "quantitative", "axis": null}}},
{"data": {"values": [{}]}, "mark": {"type": "text", "text": "November:", "font": "Open Sans", "fontWeight": "bold", "fontSize": 40, "align": "left", "baseline": "middle", "color": "black"},
 "encoding": {"x": {"datum": 14.538, "type": "quantitative", "axis": null}, "y": {"datum": 54.6, "type": "quantitative", "axis": null}}},
{"data": {"values": [{}]}, "mark": {"type": "text", "text": "Flooding in the south and north", "font": "Open Sans", "fontSize": 41.5, "align": "left", "baseline": "middle", "color": "black"},
 "encoding": {"x": {"datum": 14.968, "type": "quantitative", "axis": null}, "y": {"datum": 54.6, "type": "quantitative", "axis": null}}}
]
},
{
"width": 1101, "height": 782,
"resolve": {"axis": {"x": "independent", "y": "independent"}},
"layer": [
{"data": {"name": "nov"}, "mark": {"type": "line", "strokeWidth": 3, "clip": true},
 "encoding": {
  "x": {"field": "lat", "type": "quantitative", "scale": {"domain": [13.95, 14.5], "nice": false, "zero": false}, "axis": {"orient": "bottom", "values": [14,14.1,14.2,14.3,14.4,14.5], "format": "~r", "title": "Latitude", "titleY": 91, "titleBaseline": "alphabetic"}},
  "y": {"field": "h", "type": "quantitative", "scale": {"domain": [-32, -27], "nice": false, "zero": false}, "axis": {"orient": "right", "values": [-32,-31,-30,-29,-28,-27], "format": "~r", "title": "Height [m]", "titleX": 111, "titleY": 391, "titleAngle": -90, "titleBaseline": "middle", "titleAlign": "center"}},
  "color": {"field": "s", "type": "nominal", "scale": {"domain": ["2011","2013"], "range": ["#000000", "#3264d2"]}, "legend": null},
  "strokeDash": {"field": "s", "type": "nominal", "scale": {"domain": ["2011","2013"], "range": [[1,0],[16,11]]}, "legend": null}
 }},
{"data": {"values": [{}]}, "mark": {"type": "text", "text": "Zoom", "font": "Open Sans", "fontWeight": "bold", "fontSize": 40, "align": "left", "baseline": "middle", "color": "black"},
 "encoding": {
  "x": {"datum": 13.9605, "type": "quantitative", "axis": {"orient": "top", "values": [14,14.1,14.2,14.3,14.4,14.5], "labels": false, "title": null}},
  "y": {"datum": -27.294, "type": "quantitative", "axis": {"orient": "left", "values": [-32,-31,-30,-29,-28,-27], "labels": false, "title": null}}
 }}
]
}
]
}
